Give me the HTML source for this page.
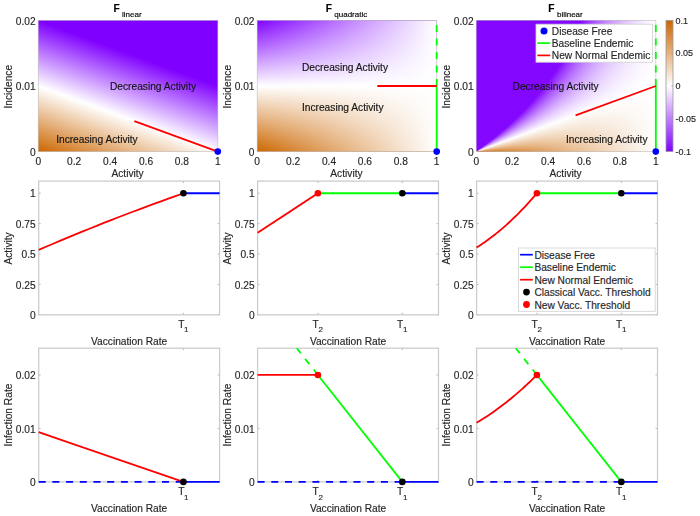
<!DOCTYPE html>
<html><head><meta charset="utf-8"><title>Figure</title>
<style>html,body{margin:0;padding:0;background:#fff;}body{width:700px;height:516px;overflow:hidden;font-family:"Liberation Sans",sans-serif;}svg{display:block;filter:blur(0.35px);}text{stroke:currentColor;stroke-width:0.15px;}</style></head><body>
<svg width="700" height="516" viewBox="0 0 700 516" font-family="Liberation Sans, sans-serif"><defs><linearGradient id="h1" gradientUnits="userSpaceOnUse" x1="38.3" y1="151.6" x2="80.6" y2="35.86"><stop offset="0" stop-color="#cc6600"/><stop offset="0.5" stop-color="#ffffff"/><stop offset="1" stop-color="#8000ff"/></linearGradient><linearGradient id="h2v" gradientUnits="userSpaceOnUse" x1="0" y1="151.6" x2="0" y2="20.4"><stop offset="0" stop-color="#cc6600"/><stop offset="0.5" stop-color="#ffffff"/><stop offset="1" stop-color="#8000ff"/></linearGradient><linearGradient id="h2h" gradientUnits="userSpaceOnUse" x1="257.2" y1="0" x2="436.7" y2="0"><stop offset="0" stop-color="#ffffff" stop-opacity="0"/><stop offset="1" stop-color="#ffffff" stop-opacity="1"/></linearGradient><linearGradient id="c0" gradientUnits="userSpaceOnUse" x1="0" y1="151.6" x2="0" y2="151.234"><stop offset="0" stop-color="#cc6601"/><stop offset="0.4993" stop-color="#ffffff"/><stop offset="1" stop-color="#8000ff"/></linearGradient><linearGradient id="c1" gradientUnits="userSpaceOnUse" x1="0" y1="151.6" x2="0" y2="150.499"><stop offset="0" stop-color="#cc6702"/><stop offset="0.4979" stop-color="#ffffff"/><stop offset="1" stop-color="#8000ff"/></linearGradient><linearGradient id="c2" gradientUnits="userSpaceOnUse" x1="0" y1="151.6" x2="0" y2="149.760"><stop offset="0" stop-color="#cd6804"/><stop offset="0.4965" stop-color="#ffffff"/><stop offset="1" stop-color="#8000ff"/></linearGradient><linearGradient id="c3" gradientUnits="userSpaceOnUse" x1="0" y1="151.6" x2="0" y2="149.016"><stop offset="0" stop-color="#cd6905"/><stop offset="0.4951" stop-color="#ffffff"/><stop offset="1" stop-color="#8000ff"/></linearGradient><linearGradient id="c4" gradientUnits="userSpaceOnUse" x1="0" y1="151.6" x2="0" y2="148.269"><stop offset="0" stop-color="#cd6a06"/><stop offset="0.4937" stop-color="#ffffff"/><stop offset="1" stop-color="#8000ff"/></linearGradient><linearGradient id="c5" gradientUnits="userSpaceOnUse" x1="0" y1="151.6" x2="0" y2="147.516"><stop offset="0" stop-color="#ce6b08"/><stop offset="0.4922" stop-color="#ffffff"/><stop offset="1" stop-color="#8000ff"/></linearGradient><linearGradient id="c6" gradientUnits="userSpaceOnUse" x1="0" y1="151.6" x2="0" y2="146.760"><stop offset="0" stop-color="#ce6c09"/><stop offset="0.4908" stop-color="#ffffff"/><stop offset="1" stop-color="#8000ff"/></linearGradient><linearGradient id="c7" gradientUnits="userSpaceOnUse" x1="0" y1="151.6" x2="0" y2="145.999"><stop offset="0" stop-color="#ce6c0b"/><stop offset="0.4893" stop-color="#ffffff"/><stop offset="1" stop-color="#8000ff"/></linearGradient><linearGradient id="c8" gradientUnits="userSpaceOnUse" x1="0" y1="151.6" x2="0" y2="145.233"><stop offset="0" stop-color="#ce6d0c"/><stop offset="0.4879" stop-color="#ffffff"/><stop offset="1" stop-color="#8000ff"/></linearGradient><linearGradient id="c9" gradientUnits="userSpaceOnUse" x1="0" y1="151.6" x2="0" y2="144.462"><stop offset="0" stop-color="#cf6e0d"/><stop offset="0.4864" stop-color="#ffffff"/><stop offset="1" stop-color="#8000ff"/></linearGradient><linearGradient id="c10" gradientUnits="userSpaceOnUse" x1="0" y1="151.6" x2="0" y2="143.687"><stop offset="0" stop-color="#cf6f0f"/><stop offset="0.4849" stop-color="#ffffff"/><stop offset="1" stop-color="#8000ff"/></linearGradient><linearGradient id="c11" gradientUnits="userSpaceOnUse" x1="0" y1="151.6" x2="0" y2="142.907"><stop offset="0" stop-color="#cf7010"/><stop offset="0.4835" stop-color="#ffffff"/><stop offset="1" stop-color="#8000ff"/></linearGradient><linearGradient id="c12" gradientUnits="userSpaceOnUse" x1="0" y1="151.6" x2="0" y2="142.122"><stop offset="0" stop-color="#d07112"/><stop offset="0.4820" stop-color="#ffffff"/><stop offset="1" stop-color="#8000ff"/></linearGradient><linearGradient id="c13" gradientUnits="userSpaceOnUse" x1="0" y1="151.6" x2="0" y2="141.331"><stop offset="0" stop-color="#d07213"/><stop offset="0.4805" stop-color="#ffffff"/><stop offset="1" stop-color="#8000ff"/></linearGradient><linearGradient id="c14" gradientUnits="userSpaceOnUse" x1="0" y1="151.6" x2="0" y2="140.536"><stop offset="0" stop-color="#d07215"/><stop offset="0.4790" stop-color="#ffffff"/><stop offset="1" stop-color="#8000ff"/></linearGradient><linearGradient id="c15" gradientUnits="userSpaceOnUse" x1="0" y1="151.6" x2="0" y2="139.735"><stop offset="0" stop-color="#d07316"/><stop offset="0.4774" stop-color="#ffffff"/><stop offset="1" stop-color="#8000ff"/></linearGradient><linearGradient id="c16" gradientUnits="userSpaceOnUse" x1="0" y1="151.6" x2="0" y2="138.929"><stop offset="0" stop-color="#d17417"/><stop offset="0.4759" stop-color="#ffffff"/><stop offset="1" stop-color="#8000ff"/></linearGradient><linearGradient id="c17" gradientUnits="userSpaceOnUse" x1="0" y1="151.6" x2="0" y2="138.118"><stop offset="0" stop-color="#d17519"/><stop offset="0.4744" stop-color="#ffffff"/><stop offset="1" stop-color="#8000ff"/></linearGradient><linearGradient id="c18" gradientUnits="userSpaceOnUse" x1="0" y1="151.6" x2="0" y2="137.301"><stop offset="0" stop-color="#d1761a"/><stop offset="0.4728" stop-color="#ffffff"/><stop offset="1" stop-color="#8000ff"/></linearGradient><linearGradient id="c19" gradientUnits="userSpaceOnUse" x1="0" y1="151.6" x2="0" y2="136.479"><stop offset="0" stop-color="#d2771c"/><stop offset="0.4713" stop-color="#ffffff"/><stop offset="1" stop-color="#8000ff"/></linearGradient><linearGradient id="c20" gradientUnits="userSpaceOnUse" x1="0" y1="151.6" x2="0" y2="135.650"><stop offset="0" stop-color="#d2771d"/><stop offset="0.4697" stop-color="#ffffff"/><stop offset="1" stop-color="#8000ff"/></linearGradient><linearGradient id="c21" gradientUnits="userSpaceOnUse" x1="0" y1="151.6" x2="0" y2="134.816"><stop offset="0" stop-color="#d2781f"/><stop offset="0.4681" stop-color="#ffffff"/><stop offset="1" stop-color="#8000ff"/></linearGradient><linearGradient id="c22" gradientUnits="userSpaceOnUse" x1="0" y1="151.6" x2="0" y2="133.976"><stop offset="0" stop-color="#d27920"/><stop offset="0.4666" stop-color="#ffffff"/><stop offset="1" stop-color="#8000ff"/></linearGradient><linearGradient id="c23" gradientUnits="userSpaceOnUse" x1="0" y1="151.6" x2="0" y2="133.130"><stop offset="0" stop-color="#d37a21"/><stop offset="0.4650" stop-color="#ffffff"/><stop offset="1" stop-color="#8000ff"/></linearGradient><linearGradient id="c24" gradientUnits="userSpaceOnUse" x1="0" y1="151.6" x2="0" y2="132.277"><stop offset="0" stop-color="#d37b23"/><stop offset="0.4634" stop-color="#ffffff"/><stop offset="1" stop-color="#8000ff"/></linearGradient><linearGradient id="c25" gradientUnits="userSpaceOnUse" x1="0" y1="151.6" x2="0" y2="131.418"><stop offset="0" stop-color="#d37c24"/><stop offset="0.4618" stop-color="#ffffff"/><stop offset="1" stop-color="#8000ff"/></linearGradient><linearGradient id="c26" gradientUnits="userSpaceOnUse" x1="0" y1="151.6" x2="0" y2="130.553"><stop offset="0" stop-color="#d47d26"/><stop offset="0.4602" stop-color="#ffffff"/><stop offset="1" stop-color="#8000ff"/></linearGradient><linearGradient id="c27" gradientUnits="userSpaceOnUse" x1="0" y1="151.6" x2="0" y2="129.681"><stop offset="0" stop-color="#d47d27"/><stop offset="0.4585" stop-color="#ffffff"/><stop offset="1" stop-color="#8000ff"/></linearGradient><linearGradient id="c28" gradientUnits="userSpaceOnUse" x1="0" y1="151.6" x2="0" y2="128.803"><stop offset="0" stop-color="#d47e28"/><stop offset="0.4569" stop-color="#ffffff"/><stop offset="1" stop-color="#8000ff"/></linearGradient><linearGradient id="c29" gradientUnits="userSpaceOnUse" x1="0" y1="151.6" x2="0" y2="127.918"><stop offset="0" stop-color="#d47f2a"/><stop offset="0.4552" stop-color="#ffffff"/><stop offset="1" stop-color="#8000ff"/></linearGradient><linearGradient id="c30" gradientUnits="userSpaceOnUse" x1="0" y1="151.6" x2="0" y2="127.025"><stop offset="0" stop-color="#d5802b"/><stop offset="0.4536" stop-color="#ffffff"/><stop offset="1" stop-color="#8000ff"/></linearGradient><linearGradient id="c31" gradientUnits="userSpaceOnUse" x1="0" y1="151.6" x2="0" y2="126.126"><stop offset="0" stop-color="#d5812d"/><stop offset="0.4519" stop-color="#ffffff"/><stop offset="1" stop-color="#8000ff"/></linearGradient><linearGradient id="c32" gradientUnits="userSpaceOnUse" x1="0" y1="151.6" x2="0" y2="125.219"><stop offset="0" stop-color="#d5822e"/><stop offset="0.4502" stop-color="#ffffff"/><stop offset="1" stop-color="#8000ff"/></linearGradient><linearGradient id="c33" gradientUnits="userSpaceOnUse" x1="0" y1="151.6" x2="0" y2="124.305"><stop offset="0" stop-color="#d68330"/><stop offset="0.4485" stop-color="#ffffff"/><stop offset="1" stop-color="#8000ff"/></linearGradient><linearGradient id="c34" gradientUnits="userSpaceOnUse" x1="0" y1="151.6" x2="0" y2="123.383"><stop offset="0" stop-color="#d68331"/><stop offset="0.4468" stop-color="#ffffff"/><stop offset="1" stop-color="#8000ff"/></linearGradient><linearGradient id="c35" gradientUnits="userSpaceOnUse" x1="0" y1="151.6" x2="0" y2="122.454"><stop offset="0" stop-color="#d68432"/><stop offset="0.4451" stop-color="#ffffff"/><stop offset="1" stop-color="#8000ff"/></linearGradient><linearGradient id="c36" gradientUnits="userSpaceOnUse" x1="0" y1="151.6" x2="0" y2="121.517"><stop offset="0" stop-color="#d68534"/><stop offset="0.4434" stop-color="#ffffff"/><stop offset="1" stop-color="#8000ff"/></linearGradient><linearGradient id="c37" gradientUnits="userSpaceOnUse" x1="0" y1="151.6" x2="0" y2="120.571"><stop offset="0" stop-color="#d78635"/><stop offset="0.4417" stop-color="#ffffff"/><stop offset="1" stop-color="#8000ff"/></linearGradient><linearGradient id="c38" gradientUnits="userSpaceOnUse" x1="0" y1="151.6" x2="0" y2="119.618"><stop offset="0" stop-color="#d78737"/><stop offset="0.4399" stop-color="#ffffff"/><stop offset="1" stop-color="#8000ff"/></linearGradient><linearGradient id="c39" gradientUnits="userSpaceOnUse" x1="0" y1="151.6" x2="0" y2="118.656"><stop offset="0" stop-color="#d78838"/><stop offset="0.4382" stop-color="#ffffff"/><stop offset="1" stop-color="#8000ff"/></linearGradient><linearGradient id="c40" gradientUnits="userSpaceOnUse" x1="0" y1="151.6" x2="0" y2="117.685"><stop offset="0" stop-color="#d8893a"/><stop offset="0.4364" stop-color="#ffffff"/><stop offset="1" stop-color="#8000ff"/></linearGradient><linearGradient id="c41" gradientUnits="userSpaceOnUse" x1="0" y1="151.6" x2="0" y2="116.706"><stop offset="0" stop-color="#d8893b"/><stop offset="0.4346" stop-color="#ffffff"/><stop offset="1" stop-color="#8000ff"/></linearGradient><linearGradient id="c42" gradientUnits="userSpaceOnUse" x1="0" y1="151.6" x2="0" y2="115.718"><stop offset="0" stop-color="#d88a3c"/><stop offset="0.4329" stop-color="#ffffff"/><stop offset="1" stop-color="#8000ff"/></linearGradient><linearGradient id="c43" gradientUnits="userSpaceOnUse" x1="0" y1="151.6" x2="0" y2="114.720"><stop offset="0" stop-color="#d88b3e"/><stop offset="0.4311" stop-color="#ffffff"/><stop offset="1" stop-color="#8000ff"/></linearGradient><linearGradient id="c44" gradientUnits="userSpaceOnUse" x1="0" y1="151.6" x2="0" y2="113.713"><stop offset="0" stop-color="#d98c3f"/><stop offset="0.4293" stop-color="#ffffff"/><stop offset="1" stop-color="#8000ff"/></linearGradient><linearGradient id="c45" gradientUnits="userSpaceOnUse" x1="0" y1="151.6" x2="0" y2="112.697"><stop offset="0" stop-color="#d98d41"/><stop offset="0.4274" stop-color="#ffffff"/><stop offset="1" stop-color="#8000ff"/></linearGradient><linearGradient id="c46" gradientUnits="userSpaceOnUse" x1="0" y1="151.6" x2="0" y2="111.671"><stop offset="0" stop-color="#d98e42"/><stop offset="0.4256" stop-color="#ffffff"/><stop offset="1" stop-color="#8000ff"/></linearGradient><linearGradient id="c47" gradientUnits="userSpaceOnUse" x1="0" y1="151.6" x2="0" y2="110.635"><stop offset="0" stop-color="#d98e43"/><stop offset="0.4238" stop-color="#ffffff"/><stop offset="1" stop-color="#8000ff"/></linearGradient><linearGradient id="c48" gradientUnits="userSpaceOnUse" x1="0" y1="151.6" x2="0" y2="109.588"><stop offset="0" stop-color="#da8f45"/><stop offset="0.4219" stop-color="#ffffff"/><stop offset="1" stop-color="#8000ff"/></linearGradient><linearGradient id="c49" gradientUnits="userSpaceOnUse" x1="0" y1="151.6" x2="0" y2="108.531"><stop offset="0" stop-color="#da9046"/><stop offset="0.4200" stop-color="#ffffff"/><stop offset="1" stop-color="#8000ff"/></linearGradient><linearGradient id="c50" gradientUnits="userSpaceOnUse" x1="0" y1="151.6" x2="0" y2="107.464"><stop offset="0" stop-color="#da9148"/><stop offset="0.4182" stop-color="#ffffff"/><stop offset="1" stop-color="#8000ff"/></linearGradient><linearGradient id="c51" gradientUnits="userSpaceOnUse" x1="0" y1="151.6" x2="0" y2="106.385"><stop offset="0" stop-color="#db9249"/><stop offset="0.4163" stop-color="#ffffff"/><stop offset="1" stop-color="#8000ff"/></linearGradient><linearGradient id="c52" gradientUnits="userSpaceOnUse" x1="0" y1="151.6" x2="0" y2="105.295"><stop offset="0" stop-color="#db934b"/><stop offset="0.4144" stop-color="#ffffff"/><stop offset="1" stop-color="#8000ff"/></linearGradient><linearGradient id="c53" gradientUnits="userSpaceOnUse" x1="0" y1="151.6" x2="0" y2="104.194"><stop offset="0" stop-color="#db944c"/><stop offset="0.4124" stop-color="#ffffff"/><stop offset="1" stop-color="#8000ff"/></linearGradient><linearGradient id="c54" gradientUnits="userSpaceOnUse" x1="0" y1="151.6" x2="0" y2="103.081"><stop offset="0" stop-color="#db944d"/><stop offset="0.4105" stop-color="#ffffff"/><stop offset="1" stop-color="#8000ff"/></linearGradient><linearGradient id="c55" gradientUnits="userSpaceOnUse" x1="0" y1="151.6" x2="0" y2="101.956"><stop offset="0" stop-color="#dc954f"/><stop offset="0.4086" stop-color="#ffffff"/><stop offset="1" stop-color="#8000ff"/></linearGradient><linearGradient id="c56" gradientUnits="userSpaceOnUse" x1="0" y1="151.6" x2="0" y2="100.818"><stop offset="0" stop-color="#dc9650"/><stop offset="0.4066" stop-color="#ffffff"/><stop offset="1" stop-color="#8000ff"/></linearGradient><linearGradient id="c57" gradientUnits="userSpaceOnUse" x1="0" y1="151.6" x2="0" y2="99.668"><stop offset="0" stop-color="#dc9752"/><stop offset="0.4046" stop-color="#ffffff"/><stop offset="1" stop-color="#8000ff"/></linearGradient><linearGradient id="c58" gradientUnits="userSpaceOnUse" x1="0" y1="151.6" x2="0" y2="98.505"><stop offset="0" stop-color="#dd9853"/><stop offset="0.4027" stop-color="#ffffff"/><stop offset="1" stop-color="#8000ff"/></linearGradient><linearGradient id="c59" gradientUnits="userSpaceOnUse" x1="0" y1="151.6" x2="0" y2="97.328"><stop offset="0" stop-color="#dd9955"/><stop offset="0.4007" stop-color="#ffffff"/><stop offset="1" stop-color="#8000ff"/></linearGradient><linearGradient id="c60" gradientUnits="userSpaceOnUse" x1="0" y1="151.6" x2="0" y2="96.138"><stop offset="0" stop-color="#dd9a56"/><stop offset="0.3987" stop-color="#ffffff"/><stop offset="1" stop-color="#8000ff"/></linearGradient><linearGradient id="c61" gradientUnits="userSpaceOnUse" x1="0" y1="151.6" x2="0" y2="94.934"><stop offset="0" stop-color="#dd9a57"/><stop offset="0.3966" stop-color="#ffffff"/><stop offset="1" stop-color="#8000ff"/></linearGradient><linearGradient id="c62" gradientUnits="userSpaceOnUse" x1="0" y1="151.6" x2="0" y2="93.716"><stop offset="0" stop-color="#de9b59"/><stop offset="0.3946" stop-color="#ffffff"/><stop offset="1" stop-color="#8000ff"/></linearGradient><linearGradient id="c63" gradientUnits="userSpaceOnUse" x1="0" y1="151.6" x2="0" y2="92.483"><stop offset="0" stop-color="#de9c5a"/><stop offset="0.3926" stop-color="#ffffff"/><stop offset="1" stop-color="#8000ff"/></linearGradient><linearGradient id="c64" gradientUnits="userSpaceOnUse" x1="0" y1="151.6" x2="0" y2="91.235"><stop offset="0" stop-color="#de9d5c"/><stop offset="0.3905" stop-color="#ffffff"/><stop offset="1" stop-color="#8000ff"/></linearGradient><linearGradient id="c65" gradientUnits="userSpaceOnUse" x1="0" y1="151.6" x2="0" y2="89.971"><stop offset="0" stop-color="#df9e5d"/><stop offset="0.3884" stop-color="#ffffff"/><stop offset="1" stop-color="#8000ff"/></linearGradient><linearGradient id="c66" gradientUnits="userSpaceOnUse" x1="0" y1="151.6" x2="0" y2="88.692"><stop offset="0" stop-color="#df9f5e"/><stop offset="0.3863" stop-color="#ffffff"/><stop offset="1" stop-color="#8000ff"/></linearGradient><linearGradient id="c67" gradientUnits="userSpaceOnUse" x1="0" y1="151.6" x2="0" y2="87.396"><stop offset="0" stop-color="#dfa060"/><stop offset="0.3842" stop-color="#ffffff"/><stop offset="1" stop-color="#8000ff"/></linearGradient><linearGradient id="c68" gradientUnits="userSpaceOnUse" x1="0" y1="151.6" x2="0" y2="86.083"><stop offset="0" stop-color="#dfa061"/><stop offset="0.3821" stop-color="#ffffff"/><stop offset="1" stop-color="#8000ff"/></linearGradient><linearGradient id="c69" gradientUnits="userSpaceOnUse" x1="0" y1="151.6" x2="0" y2="84.753"><stop offset="0" stop-color="#e0a163"/><stop offset="0.3800" stop-color="#ffffff"/><stop offset="1" stop-color="#8000ff"/></linearGradient><linearGradient id="c70" gradientUnits="userSpaceOnUse" x1="0" y1="151.6" x2="0" y2="83.406"><stop offset="0" stop-color="#e0a264"/><stop offset="0.3778" stop-color="#ffffff"/><stop offset="1" stop-color="#8000ff"/></linearGradient><linearGradient id="c71" gradientUnits="userSpaceOnUse" x1="0" y1="151.6" x2="0" y2="82.040"><stop offset="0" stop-color="#e0a366"/><stop offset="0.3757" stop-color="#ffffff"/><stop offset="1" stop-color="#8000ff"/></linearGradient><linearGradient id="c72" gradientUnits="userSpaceOnUse" x1="0" y1="151.6" x2="0" y2="80.656"><stop offset="0" stop-color="#e1a467"/><stop offset="0.3735" stop-color="#ffffff"/><stop offset="1" stop-color="#8000ff"/></linearGradient><linearGradient id="c73" gradientUnits="userSpaceOnUse" x1="0" y1="151.6" x2="0" y2="79.252"><stop offset="0" stop-color="#e1a568"/><stop offset="0.3713" stop-color="#ffffff"/><stop offset="1" stop-color="#8000ff"/></linearGradient><linearGradient id="c74" gradientUnits="userSpaceOnUse" x1="0" y1="151.6" x2="0" y2="77.828"><stop offset="0" stop-color="#e1a66a"/><stop offset="0.3691" stop-color="#ffffff"/><stop offset="1" stop-color="#8000ff"/></linearGradient><linearGradient id="c75" gradientUnits="userSpaceOnUse" x1="0" y1="151.6" x2="0" y2="76.385"><stop offset="0" stop-color="#e1a66b"/><stop offset="0.3668" stop-color="#ffffff"/><stop offset="1" stop-color="#8000ff"/></linearGradient><linearGradient id="c76" gradientUnits="userSpaceOnUse" x1="0" y1="151.6" x2="0" y2="74.920"><stop offset="0" stop-color="#e2a76d"/><stop offset="0.3646" stop-color="#ffffff"/><stop offset="1" stop-color="#8000ff"/></linearGradient><linearGradient id="c77" gradientUnits="userSpaceOnUse" x1="0" y1="151.6" x2="0" y2="73.434"><stop offset="0" stop-color="#e2a86e"/><stop offset="0.3623" stop-color="#ffffff"/><stop offset="1" stop-color="#8000ff"/></linearGradient><linearGradient id="c78" gradientUnits="userSpaceOnUse" x1="0" y1="151.6" x2="0" y2="71.925"><stop offset="0" stop-color="#e2a970"/><stop offset="0.3601" stop-color="#ffffff"/><stop offset="1" stop-color="#8000ff"/></linearGradient><linearGradient id="c79" gradientUnits="userSpaceOnUse" x1="0" y1="151.6" x2="0" y2="70.394"><stop offset="0" stop-color="#e3aa71"/><stop offset="0.3578" stop-color="#ffffff"/><stop offset="1" stop-color="#8000ff"/></linearGradient><linearGradient id="c80" gradientUnits="userSpaceOnUse" x1="0" y1="151.6" x2="0" y2="68.839"><stop offset="0" stop-color="#e3ab72"/><stop offset="0.3555" stop-color="#ffffff"/><stop offset="1" stop-color="#8000ff"/></linearGradient><linearGradient id="c81" gradientUnits="userSpaceOnUse" x1="0" y1="151.6" x2="0" y2="67.260"><stop offset="0" stop-color="#e3ab74"/><stop offset="0.3532" stop-color="#ffffff"/><stop offset="1" stop-color="#8000ff"/></linearGradient><linearGradient id="c82" gradientUnits="userSpaceOnUse" x1="0" y1="151.6" x2="0" y2="65.656"><stop offset="0" stop-color="#e3ac75"/><stop offset="0.3508" stop-color="#ffffff"/><stop offset="1" stop-color="#8000ff"/></linearGradient><linearGradient id="c83" gradientUnits="userSpaceOnUse" x1="0" y1="151.6" x2="0" y2="64.026"><stop offset="0" stop-color="#e4ad77"/><stop offset="0.3485" stop-color="#ffffff"/><stop offset="1" stop-color="#8000ff"/></linearGradient><linearGradient id="c84" gradientUnits="userSpaceOnUse" x1="0" y1="151.6" x2="0" y2="62.369"><stop offset="0" stop-color="#e4ae78"/><stop offset="0.3461" stop-color="#ffffff"/><stop offset="1" stop-color="#8000ff"/></linearGradient><linearGradient id="c85" gradientUnits="userSpaceOnUse" x1="0" y1="151.6" x2="0" y2="60.685"><stop offset="0" stop-color="#e4af79"/><stop offset="0.3437" stop-color="#ffffff"/><stop offset="1" stop-color="#8000ff"/></linearGradient><linearGradient id="c86" gradientUnits="userSpaceOnUse" x1="0" y1="151.6" x2="0" y2="58.973"><stop offset="0" stop-color="#e5b07b"/><stop offset="0.3413" stop-color="#ffffff"/><stop offset="1" stop-color="#8000ff"/></linearGradient><linearGradient id="c87" gradientUnits="userSpaceOnUse" x1="0" y1="151.6" x2="0" y2="57.231"><stop offset="0" stop-color="#e5b17c"/><stop offset="0.3389" stop-color="#ffffff"/><stop offset="1" stop-color="#8000ff"/></linearGradient><linearGradient id="c88" gradientUnits="userSpaceOnUse" x1="0" y1="151.6" x2="0" y2="55.459"><stop offset="0" stop-color="#e5b17e"/><stop offset="0.3364" stop-color="#ffffff"/><stop offset="1" stop-color="#8000ff"/></linearGradient><linearGradient id="c89" gradientUnits="userSpaceOnUse" x1="0" y1="151.6" x2="0" y2="53.656"><stop offset="0" stop-color="#e5b27f"/><stop offset="0.3340" stop-color="#ffffff"/><stop offset="1" stop-color="#8000ff"/></linearGradient><linearGradient id="c90" gradientUnits="userSpaceOnUse" x1="0" y1="151.6" x2="0" y2="51.820"><stop offset="0" stop-color="#e6b381"/><stop offset="0.3315" stop-color="#ffffff"/><stop offset="1" stop-color="#8000ff"/></linearGradient><linearGradient id="c91" gradientUnits="userSpaceOnUse" x1="0" y1="151.6" x2="0" y2="49.951"><stop offset="0" stop-color="#e6b482"/><stop offset="0.3290" stop-color="#ffffff"/><stop offset="1" stop-color="#8000ff"/></linearGradient><linearGradient id="c92" gradientUnits="userSpaceOnUse" x1="0" y1="151.6" x2="0" y2="48.048"><stop offset="0" stop-color="#e6b583"/><stop offset="0.3265" stop-color="#ffffff"/><stop offset="1" stop-color="#8000ff"/></linearGradient><linearGradient id="c93" gradientUnits="userSpaceOnUse" x1="0" y1="151.6" x2="0" y2="46.109"><stop offset="0" stop-color="#e7b685"/><stop offset="0.3239" stop-color="#ffffff"/><stop offset="1" stop-color="#8000ff"/></linearGradient><linearGradient id="c94" gradientUnits="userSpaceOnUse" x1="0" y1="151.6" x2="0" y2="44.132"><stop offset="0" stop-color="#e7b786"/><stop offset="0.3214" stop-color="#ffffff"/><stop offset="1" stop-color="#8000ff"/></linearGradient><linearGradient id="c95" gradientUnits="userSpaceOnUse" x1="0" y1="151.6" x2="0" y2="42.118"><stop offset="0" stop-color="#e7b788"/><stop offset="0.3188" stop-color="#ffffff"/><stop offset="1" stop-color="#8000ff"/></linearGradient><linearGradient id="c96" gradientUnits="userSpaceOnUse" x1="0" y1="151.6" x2="0" y2="40.063"><stop offset="0" stop-color="#e7b889"/><stop offset="0.3162" stop-color="#ffffff"/><stop offset="1" stop-color="#8000ff"/></linearGradient><linearGradient id="c97" gradientUnits="userSpaceOnUse" x1="0" y1="151.6" x2="0" y2="37.968"><stop offset="0" stop-color="#e8b98b"/><stop offset="0.3136" stop-color="#ffffff"/><stop offset="1" stop-color="#8000ff"/></linearGradient><linearGradient id="c98" gradientUnits="userSpaceOnUse" x1="0" y1="151.6" x2="0" y2="35.829"><stop offset="0" stop-color="#e8ba8c"/><stop offset="0.3109" stop-color="#ffffff"/><stop offset="1" stop-color="#8000ff"/></linearGradient><linearGradient id="c99" gradientUnits="userSpaceOnUse" x1="0" y1="151.6" x2="0" y2="33.647"><stop offset="0" stop-color="#e8bb8d"/><stop offset="0.3083" stop-color="#ffffff"/><stop offset="1" stop-color="#8000ff"/></linearGradient><linearGradient id="c100" gradientUnits="userSpaceOnUse" x1="0" y1="151.6" x2="0" y2="31.418"><stop offset="0" stop-color="#e9bc8f"/><stop offset="0.3056" stop-color="#ffffff"/><stop offset="1" stop-color="#8000ff"/></linearGradient><linearGradient id="c101" gradientUnits="userSpaceOnUse" x1="0" y1="151.6" x2="0" y2="29.142"><stop offset="0" stop-color="#e9bd90"/><stop offset="0.3029" stop-color="#ffffff"/><stop offset="1" stop-color="#8000ff"/></linearGradient><linearGradient id="c102" gradientUnits="userSpaceOnUse" x1="0" y1="151.6" x2="0" y2="26.816"><stop offset="0" stop-color="#e9bd92"/><stop offset="0.3002" stop-color="#ffffff"/><stop offset="1" stop-color="#8000ff"/></linearGradient><linearGradient id="c103" gradientUnits="userSpaceOnUse" x1="0" y1="151.6" x2="0" y2="24.438"><stop offset="0" stop-color="#e9be93"/><stop offset="0.2975" stop-color="#ffffff"/><stop offset="1" stop-color="#8000ff"/></linearGradient><linearGradient id="c104" gradientUnits="userSpaceOnUse" x1="0" y1="151.6" x2="0" y2="22.007"><stop offset="0" stop-color="#eabf94"/><stop offset="0.2947" stop-color="#ffffff"/><stop offset="1" stop-color="#8000ff"/></linearGradient><linearGradient id="c105" gradientUnits="userSpaceOnUse" x1="0" y1="151.6" x2="0" y2="19.520"><stop offset="0" stop-color="#eac096"/><stop offset="0.2919" stop-color="#ffffff"/><stop offset="1" stop-color="#8000ff"/></linearGradient><linearGradient id="c106" gradientUnits="userSpaceOnUse" x1="0" y1="151.6" x2="0" y2="16.974"><stop offset="0" stop-color="#eac197"/><stop offset="0.2891" stop-color="#ffffff"/><stop offset="1" stop-color="#8000ff"/></linearGradient><linearGradient id="c107" gradientUnits="userSpaceOnUse" x1="0" y1="151.6" x2="0" y2="14.369"><stop offset="0" stop-color="#ebc299"/><stop offset="0.2863" stop-color="#ffffff"/><stop offset="1" stop-color="#8000ff"/></linearGradient><linearGradient id="c108" gradientUnits="userSpaceOnUse" x1="0" y1="151.6" x2="0" y2="11.700"><stop offset="0" stop-color="#ebc29a"/><stop offset="0.2834" stop-color="#ffffff"/><stop offset="1" stop-color="#8000ff"/></linearGradient><linearGradient id="c109" gradientUnits="userSpaceOnUse" x1="0" y1="151.6" x2="0" y2="8.965"><stop offset="0" stop-color="#ebc39c"/><stop offset="0.2806" stop-color="#ffffff"/><stop offset="1" stop-color="#8000ff"/></linearGradient><linearGradient id="c110" gradientUnits="userSpaceOnUse" x1="0" y1="151.6" x2="0" y2="6.162"><stop offset="0" stop-color="#ebc49d"/><stop offset="0.2777" stop-color="#ffffff"/><stop offset="1" stop-color="#8000ff"/></linearGradient><linearGradient id="c111" gradientUnits="userSpaceOnUse" x1="0" y1="151.6" x2="0" y2="3.287"><stop offset="0" stop-color="#ecc59e"/><stop offset="0.2747" stop-color="#ffffff"/><stop offset="1" stop-color="#8000ff"/></linearGradient><linearGradient id="c112" gradientUnits="userSpaceOnUse" x1="0" y1="151.6" x2="0" y2="0.337"><stop offset="0" stop-color="#ecc6a0"/><stop offset="0.2718" stop-color="#ffffff"/><stop offset="1" stop-color="#8000ff"/></linearGradient><linearGradient id="c113" gradientUnits="userSpaceOnUse" x1="0" y1="151.6" x2="0" y2="-2.692"><stop offset="0" stop-color="#ecc7a1"/><stop offset="0.2688" stop-color="#ffffff"/><stop offset="1" stop-color="#8000ff"/></linearGradient><linearGradient id="c114" gradientUnits="userSpaceOnUse" x1="0" y1="151.6" x2="0" y2="-5.802"><stop offset="0" stop-color="#edc8a3"/><stop offset="0.2658" stop-color="#ffffff"/><stop offset="1" stop-color="#8000ff"/></linearGradient><linearGradient id="c115" gradientUnits="userSpaceOnUse" x1="0" y1="151.6" x2="0" y2="-8.998"><stop offset="0" stop-color="#edc8a4"/><stop offset="0.2628" stop-color="#ffffff"/><stop offset="1" stop-color="#8000ff"/></linearGradient><linearGradient id="c116" gradientUnits="userSpaceOnUse" x1="0" y1="151.6" x2="0" y2="-12.284"><stop offset="0" stop-color="#edc9a6"/><stop offset="0.2598" stop-color="#ffffff"/><stop offset="1" stop-color="#8000ff"/></linearGradient><linearGradient id="c117" gradientUnits="userSpaceOnUse" x1="0" y1="151.6" x2="0" y2="-15.664"><stop offset="0" stop-color="#edcaa7"/><stop offset="0.2567" stop-color="#ffffff"/><stop offset="1" stop-color="#8000ff"/></linearGradient><linearGradient id="c118" gradientUnits="userSpaceOnUse" x1="0" y1="151.6" x2="0" y2="-19.143"><stop offset="0" stop-color="#eecba8"/><stop offset="0.2536" stop-color="#ffffff"/><stop offset="1" stop-color="#8000ff"/></linearGradient><linearGradient id="c119" gradientUnits="userSpaceOnUse" x1="0" y1="151.6" x2="0" y2="-22.726"><stop offset="0" stop-color="#eeccaa"/><stop offset="0.2505" stop-color="#ffffff"/><stop offset="1" stop-color="#8000ff"/></linearGradient><linearGradient id="c120" gradientUnits="userSpaceOnUse" x1="0" y1="151.6" x2="0" y2="-26.418"><stop offset="0" stop-color="#eecdab"/><stop offset="0.2474" stop-color="#ffffff"/><stop offset="1" stop-color="#8000ff"/></linearGradient><linearGradient id="c121" gradientUnits="userSpaceOnUse" x1="0" y1="151.6" x2="0" y2="-30.224"><stop offset="0" stop-color="#efcead"/><stop offset="0.2442" stop-color="#ffffff"/><stop offset="1" stop-color="#8000ff"/></linearGradient><linearGradient id="c122" gradientUnits="userSpaceOnUse" x1="0" y1="151.6" x2="0" y2="-34.151"><stop offset="0" stop-color="#efceae"/><stop offset="0.2410" stop-color="#ffffff"/><stop offset="1" stop-color="#8000ff"/></linearGradient><linearGradient id="c123" gradientUnits="userSpaceOnUse" x1="0" y1="151.6" x2="0" y2="-38.206"><stop offset="0" stop-color="#efcfaf"/><stop offset="0.2378" stop-color="#ffffff"/><stop offset="1" stop-color="#8000ff"/></linearGradient><linearGradient id="c124" gradientUnits="userSpaceOnUse" x1="0" y1="151.6" x2="0" y2="-42.394"><stop offset="0" stop-color="#efd0b1"/><stop offset="0.2345" stop-color="#ffffff"/><stop offset="1" stop-color="#8000ff"/></linearGradient><linearGradient id="c125" gradientUnits="userSpaceOnUse" x1="0" y1="151.6" x2="0" y2="-46.724"><stop offset="0" stop-color="#f0d1b2"/><stop offset="0.2313" stop-color="#ffffff"/><stop offset="1" stop-color="#8000ff"/></linearGradient><linearGradient id="c126" gradientUnits="userSpaceOnUse" x1="0" y1="151.6" x2="0" y2="-51.204"><stop offset="0" stop-color="#f0d2b4"/><stop offset="0.2280" stop-color="#ffffff"/><stop offset="1" stop-color="#8000ff"/></linearGradient><linearGradient id="c127" gradientUnits="userSpaceOnUse" x1="0" y1="151.6" x2="0" y2="-55.842"><stop offset="0" stop-color="#f0d3b5"/><stop offset="0.2246" stop-color="#ffffff"/><stop offset="1" stop-color="#8000ff"/></linearGradient><linearGradient id="c128" gradientUnits="userSpaceOnUse" x1="0" y1="151.6" x2="0" y2="-60.648"><stop offset="0" stop-color="#f1d4b7"/><stop offset="0.2213" stop-color="#ffffff"/><stop offset="1" stop-color="#8000ff"/></linearGradient><linearGradient id="c129" gradientUnits="userSpaceOnUse" x1="0" y1="151.6" x2="0" y2="-65.631"><stop offset="0" stop-color="#f1d4b8"/><stop offset="0.2179" stop-color="#ffffff"/><stop offset="1" stop-color="#8000ff"/></linearGradient><linearGradient id="c130" gradientUnits="userSpaceOnUse" x1="0" y1="151.6" x2="0" y2="-70.803"><stop offset="0" stop-color="#f1d5b9"/><stop offset="0.2144" stop-color="#ffffff"/><stop offset="1" stop-color="#8000ff"/></linearGradient><linearGradient id="c131" gradientUnits="userSpaceOnUse" x1="0" y1="151.6" x2="0" y2="-76.175"><stop offset="0" stop-color="#f1d6bb"/><stop offset="0.2110" stop-color="#ffffff"/><stop offset="1" stop-color="#8000ff"/></linearGradient><linearGradient id="c132" gradientUnits="userSpaceOnUse" x1="0" y1="151.6" x2="0" y2="-81.760"><stop offset="0" stop-color="#f2d7bc"/><stop offset="0.2075" stop-color="#ffffff"/><stop offset="1" stop-color="#8000ff"/></linearGradient><linearGradient id="c133" gradientUnits="userSpaceOnUse" x1="0" y1="151.6" x2="0" y2="-87.571"><stop offset="0" stop-color="#f2d8be"/><stop offset="0.2040" stop-color="#ffffff"/><stop offset="1" stop-color="#8000ff"/></linearGradient><linearGradient id="c134" gradientUnits="userSpaceOnUse" x1="0" y1="151.6" x2="0" y2="-93.625"><stop offset="0" stop-color="#f2d9bf"/><stop offset="0.2004" stop-color="#ffffff"/><stop offset="1" stop-color="#8000ff"/></linearGradient><linearGradient id="c135" gradientUnits="userSpaceOnUse" x1="0" y1="151.6" x2="0" y2="-99.938"><stop offset="0" stop-color="#f2d9c0"/><stop offset="0.1969" stop-color="#ffffff"/><stop offset="1" stop-color="#8000ff"/></linearGradient><linearGradient id="c136" gradientUnits="userSpaceOnUse" x1="0" y1="151.6" x2="0" y2="-106.527"><stop offset="0" stop-color="#f3dac2"/><stop offset="0.1933" stop-color="#ffffff"/><stop offset="1" stop-color="#8000ff"/></linearGradient><linearGradient id="c137" gradientUnits="userSpaceOnUse" x1="0" y1="151.6" x2="0" y2="-113.413"><stop offset="0" stop-color="#f3dbc3"/><stop offset="0.1896" stop-color="#ffffff"/><stop offset="1" stop-color="#8000ff"/></linearGradient><linearGradient id="c138" gradientUnits="userSpaceOnUse" x1="0" y1="151.6" x2="0" y2="-120.616"><stop offset="0" stop-color="#f3dcc5"/><stop offset="0.1859" stop-color="#ffffff"/><stop offset="1" stop-color="#8000ff"/></linearGradient><linearGradient id="c139" gradientUnits="userSpaceOnUse" x1="0" y1="151.6" x2="0" y2="-128.162"><stop offset="0" stop-color="#f4ddc6"/><stop offset="0.1822" stop-color="#ffffff"/><stop offset="1" stop-color="#8000ff"/></linearGradient><linearGradient id="c140" gradientUnits="userSpaceOnUse" x1="0" y1="151.6" x2="0" y2="-136.075"><stop offset="0" stop-color="#f4dec8"/><stop offset="0.1785" stop-color="#ffffff"/><stop offset="1" stop-color="#8000ff"/></linearGradient><linearGradient id="c141" gradientUnits="userSpaceOnUse" x1="0" y1="151.6" x2="0" y2="-144.386"><stop offset="0" stop-color="#f4dfc9"/><stop offset="0.1747" stop-color="#ffffff"/><stop offset="1" stop-color="#8000ff"/></linearGradient><linearGradient id="c142" gradientUnits="userSpaceOnUse" x1="0" y1="151.6" x2="0" y2="-153.127"><stop offset="0" stop-color="#f4dfca"/><stop offset="0.1709" stop-color="#ffffff"/><stop offset="1" stop-color="#8000ff"/></linearGradient><linearGradient id="c143" gradientUnits="userSpaceOnUse" x1="0" y1="151.6" x2="0" y2="-162.332"><stop offset="0" stop-color="#f5e0cc"/><stop offset="0.1671" stop-color="#ffffff"/><stop offset="1" stop-color="#8000ff"/></linearGradient><linearGradient id="c144" gradientUnits="userSpaceOnUse" x1="0" y1="151.6" x2="0" y2="-172.043"><stop offset="0" stop-color="#f5e1cd"/><stop offset="0.1632" stop-color="#ffffff"/><stop offset="1" stop-color="#8000ff"/></linearGradient><linearGradient id="c145" gradientUnits="userSpaceOnUse" x1="0" y1="151.6" x2="0" y2="-182.304"><stop offset="0" stop-color="#f5e2cf"/><stop offset="0.1593" stop-color="#ffffff"/><stop offset="1" stop-color="#8000ff"/></linearGradient><linearGradient id="c146" gradientUnits="userSpaceOnUse" x1="0" y1="151.6" x2="0" y2="-193.164"><stop offset="0" stop-color="#f6e3d0"/><stop offset="0.1553" stop-color="#ffffff"/><stop offset="1" stop-color="#8000ff"/></linearGradient><linearGradient id="c147" gradientUnits="userSpaceOnUse" x1="0" y1="151.6" x2="0" y2="-204.680"><stop offset="0" stop-color="#f6e4d2"/><stop offset="0.1513" stop-color="#ffffff"/><stop offset="1" stop-color="#8000ff"/></linearGradient><linearGradient id="c148" gradientUnits="userSpaceOnUse" x1="0" y1="151.6" x2="0" y2="-216.916"><stop offset="0" stop-color="#f6e5d3"/><stop offset="0.1473" stop-color="#ffffff"/><stop offset="1" stop-color="#8000ff"/></linearGradient><linearGradient id="c149" gradientUnits="userSpaceOnUse" x1="0" y1="151.6" x2="0" y2="-229.943"><stop offset="0" stop-color="#f6e5d4"/><stop offset="0.1432" stop-color="#ffffff"/><stop offset="1" stop-color="#8000ff"/></linearGradient><linearGradient id="c150" gradientUnits="userSpaceOnUse" x1="0" y1="151.6" x2="0" y2="-243.843"><stop offset="0" stop-color="#f7e6d6"/><stop offset="0.1391" stop-color="#ffffff"/><stop offset="1" stop-color="#8000ff"/></linearGradient><linearGradient id="c151" gradientUnits="userSpaceOnUse" x1="0" y1="151.6" x2="0" y2="-258.710"><stop offset="0" stop-color="#f7e7d7"/><stop offset="0.1349" stop-color="#ffffff"/><stop offset="1" stop-color="#8000ff"/></linearGradient><linearGradient id="c152" gradientUnits="userSpaceOnUse" x1="0" y1="151.6" x2="0" y2="-274.651"><stop offset="0" stop-color="#f7e8d9"/><stop offset="0.1308" stop-color="#ffffff"/><stop offset="1" stop-color="#8000ff"/></linearGradient><linearGradient id="c153" gradientUnits="userSpaceOnUse" x1="0" y1="151.6" x2="0" y2="-291.790"><stop offset="0" stop-color="#f8e9da"/><stop offset="0.1265" stop-color="#ffffff"/><stop offset="1" stop-color="#8000ff"/></linearGradient><linearGradient id="c154" gradientUnits="userSpaceOnUse" x1="0" y1="151.6" x2="0" y2="-310.272"><stop offset="0" stop-color="#f8eadb"/><stop offset="0.1222" stop-color="#ffffff"/><stop offset="1" stop-color="#8000ff"/></linearGradient><linearGradient id="c155" gradientUnits="userSpaceOnUse" x1="0" y1="151.6" x2="0" y2="-330.262"><stop offset="0" stop-color="#f8ebdd"/><stop offset="0.1179" stop-color="#ffffff"/><stop offset="1" stop-color="#8000ff"/></linearGradient><linearGradient id="c156" gradientUnits="userSpaceOnUse" x1="0" y1="151.6" x2="0" y2="-351.960"><stop offset="0" stop-color="#f8ebde"/><stop offset="0.1136" stop-color="#ffffff"/><stop offset="1" stop-color="#8000ff"/></linearGradient><linearGradient id="c157" gradientUnits="userSpaceOnUse" x1="0" y1="151.6" x2="0" y2="-375.596"><stop offset="0" stop-color="#f9ece0"/><stop offset="0.1092" stop-color="#ffffff"/><stop offset="1" stop-color="#8000ff"/></linearGradient><linearGradient id="c158" gradientUnits="userSpaceOnUse" x1="0" y1="151.6" x2="0" y2="-401.449"><stop offset="0" stop-color="#f9ede1"/><stop offset="0.1047" stop-color="#ffffff"/><stop offset="1" stop-color="#8000ff"/></linearGradient><linearGradient id="c159" gradientUnits="userSpaceOnUse" x1="0" y1="151.6" x2="0" y2="-429.851"><stop offset="0" stop-color="#f9eee3"/><stop offset="0.1003" stop-color="#ffffff"/><stop offset="1" stop-color="#8000ff"/></linearGradient><linearGradient id="c160" gradientUnits="userSpaceOnUse" x1="0" y1="151.6" x2="0" y2="-461.204"><stop offset="0" stop-color="#faefe4"/><stop offset="0.0957" stop-color="#ffffff"/><stop offset="1" stop-color="#8000ff"/></linearGradient><linearGradient id="c161" gradientUnits="userSpaceOnUse" x1="0" y1="151.6" x2="0" y2="-496.000"><stop offset="0" stop-color="#faf0e5"/><stop offset="0.0911" stop-color="#ffffff"/><stop offset="1" stop-color="#8000ff"/></linearGradient><linearGradient id="c162" gradientUnits="userSpaceOnUse" x1="0" y1="151.6" x2="0" y2="-534.846"><stop offset="0" stop-color="#faf1e7"/><stop offset="0.0865" stop-color="#ffffff"/><stop offset="1" stop-color="#8000ff"/></linearGradient><linearGradient id="c163" gradientUnits="userSpaceOnUse" x1="0" y1="151.6" x2="0" y2="-578.503"><stop offset="0" stop-color="#faf1e8"/><stop offset="0.0818" stop-color="#ffffff"/><stop offset="1" stop-color="#8000ff"/></linearGradient><linearGradient id="c164" gradientUnits="userSpaceOnUse" x1="0" y1="151.6" x2="0" y2="-627.931"><stop offset="0" stop-color="#fbf2ea"/><stop offset="0.0771" stop-color="#ffffff"/><stop offset="1" stop-color="#8000ff"/></linearGradient><linearGradient id="c165" gradientUnits="userSpaceOnUse" x1="0" y1="151.6" x2="0" y2="-684.369"><stop offset="0" stop-color="#fbf3eb"/><stop offset="0.0724" stop-color="#ffffff"/><stop offset="1" stop-color="#8000ff"/></linearGradient><linearGradient id="c166" gradientUnits="userSpaceOnUse" x1="0" y1="151.6" x2="0" y2="-749.434"><stop offset="0" stop-color="#fbf4ed"/><stop offset="0.0675" stop-color="#ffffff"/><stop offset="1" stop-color="#8000ff"/></linearGradient><linearGradient id="c167" gradientUnits="userSpaceOnUse" x1="0" y1="151.6" x2="0" y2="-825.281"><stop offset="0" stop-color="#fcf5ee"/><stop offset="0.0627" stop-color="#ffffff"/><stop offset="1" stop-color="#8000ff"/></linearGradient><linearGradient id="c168" gradientUnits="userSpaceOnUse" x1="0" y1="151.6" x2="0" y2="-914.853"><stop offset="0" stop-color="#fcf6ef"/><stop offset="0.0577" stop-color="#ffffff"/><stop offset="1" stop-color="#8000ff"/></linearGradient><linearGradient id="c169" gradientUnits="userSpaceOnUse" x1="0" y1="151.6" x2="0" y2="-1022.265"><stop offset="0" stop-color="#fcf6f1"/><stop offset="0.0528" stop-color="#ffffff"/><stop offset="1" stop-color="#8000ff"/></linearGradient><linearGradient id="c170" gradientUnits="userSpaceOnUse" x1="0" y1="151.6" x2="0" y2="-1153.466"><stop offset="0" stop-color="#fcf7f2"/><stop offset="0.0477" stop-color="#ffffff"/><stop offset="1" stop-color="#8000ff"/></linearGradient><linearGradient id="c171" gradientUnits="userSpaceOnUse" x1="0" y1="151.6" x2="0" y2="-1317.376"><stop offset="0" stop-color="#fdf8f4"/><stop offset="0.0427" stop-color="#ffffff"/><stop offset="1" stop-color="#8000ff"/></linearGradient><linearGradient id="c172" gradientUnits="userSpaceOnUse" x1="0" y1="151.6" x2="0" y2="-1528.013"><stop offset="0" stop-color="#fdf9f5"/><stop offset="0.0375" stop-color="#ffffff"/><stop offset="1" stop-color="#8000ff"/></linearGradient><linearGradient id="c173" gradientUnits="userSpaceOnUse" x1="0" y1="151.6" x2="0" y2="-1808.741"><stop offset="0" stop-color="#fdfaf6"/><stop offset="0.0323" stop-color="#ffffff"/><stop offset="1" stop-color="#8000ff"/></linearGradient><linearGradient id="c174" gradientUnits="userSpaceOnUse" x1="0" y1="151.6" x2="0" y2="-2201.613"><stop offset="0" stop-color="#fefbf8"/><stop offset="0.0271" stop-color="#ffffff"/><stop offset="1" stop-color="#8000ff"/></linearGradient><linearGradient id="c175" gradientUnits="userSpaceOnUse" x1="0" y1="151.6" x2="0" y2="-2790.738"><stop offset="0" stop-color="#fefcf9"/><stop offset="0.0218" stop-color="#ffffff"/><stop offset="1" stop-color="#8000ff"/></linearGradient><linearGradient id="c176" gradientUnits="userSpaceOnUse" x1="0" y1="151.6" x2="0" y2="-3772.370"><stop offset="0" stop-color="#fefcfb"/><stop offset="0.0164" stop-color="#ffffff"/><stop offset="1" stop-color="#8000ff"/></linearGradient><linearGradient id="c177" gradientUnits="userSpaceOnUse" x1="0" y1="151.6" x2="0" y2="-5735.269"><stop offset="0" stop-color="#fefdfc"/><stop offset="0.0110" stop-color="#ffffff"/><stop offset="1" stop-color="#8000ff"/></linearGradient><linearGradient id="c178" gradientUnits="userSpaceOnUse" x1="0" y1="151.6" x2="0" y2="-11623.235"><stop offset="0" stop-color="#fffefe"/><stop offset="0.0055" stop-color="#ffffff"/><stop offset="1" stop-color="#8000ff"/></linearGradient><linearGradient id="c179" gradientUnits="userSpaceOnUse" x1="0" y1="151.6" x2="0" y2="-46949.109"><stop offset="0" stop-color="#ffffff"/><stop offset="0.0014" stop-color="#ffffff"/><stop offset="1" stop-color="#8000ff"/></linearGradient><linearGradient id="cb" gradientUnits="userSpaceOnUse" x1="0" y1="151.6" x2="0" y2="20.4"><stop offset="0" stop-color="#8000ff"/><stop offset="0.5" stop-color="#ffffff"/><stop offset="1" stop-color="#cc6600"/></linearGradient></defs><rect x="38.3" y="20.4" width="179.5" height="131.2" fill="url(#h1)"/>
<rect x="257.2" y="20.4" width="179.5" height="131.2" fill="url(#h2v)"/>
<rect x="257.2" y="20.4" width="179.5" height="131.2" fill="url(#h2h)"/>
<g>
<rect x="476.3" y="20.4" width="1.6" height="131.2" fill="url(#c0)"/>
<rect x="477.3" y="20.4" width="1.6" height="131.2" fill="url(#c1)"/>
<rect x="478.3" y="20.4" width="1.6" height="131.2" fill="url(#c2)"/>
<rect x="479.3" y="20.4" width="1.6" height="131.2" fill="url(#c3)"/>
<rect x="480.3" y="20.4" width="1.6" height="131.2" fill="url(#c4)"/>
<rect x="481.3" y="20.4" width="1.6" height="131.2" fill="url(#c5)"/>
<rect x="482.3" y="20.4" width="1.6" height="131.2" fill="url(#c6)"/>
<rect x="483.3" y="20.4" width="1.6" height="131.2" fill="url(#c7)"/>
<rect x="484.3" y="20.4" width="1.6" height="131.2" fill="url(#c8)"/>
<rect x="485.3" y="20.4" width="1.6" height="131.2" fill="url(#c9)"/>
<rect x="486.3" y="20.4" width="1.6" height="131.2" fill="url(#c10)"/>
<rect x="487.3" y="20.4" width="1.6" height="131.2" fill="url(#c11)"/>
<rect x="488.3" y="20.4" width="1.6" height="131.2" fill="url(#c12)"/>
<rect x="489.3" y="20.4" width="1.6" height="131.2" fill="url(#c13)"/>
<rect x="490.3" y="20.4" width="1.6" height="131.2" fill="url(#c14)"/>
<rect x="491.3" y="20.4" width="1.6" height="131.2" fill="url(#c15)"/>
<rect x="492.3" y="20.4" width="1.6" height="131.2" fill="url(#c16)"/>
<rect x="493.3" y="20.4" width="1.6" height="131.2" fill="url(#c17)"/>
<rect x="494.3" y="20.4" width="1.6" height="131.2" fill="url(#c18)"/>
<rect x="495.3" y="20.4" width="1.6" height="131.2" fill="url(#c19)"/>
<rect x="496.3" y="20.4" width="1.6" height="131.2" fill="url(#c20)"/>
<rect x="497.3" y="20.4" width="1.6" height="131.2" fill="url(#c21)"/>
<rect x="498.3" y="20.4" width="1.6" height="131.2" fill="url(#c22)"/>
<rect x="499.3" y="20.4" width="1.6" height="131.2" fill="url(#c23)"/>
<rect x="500.3" y="20.4" width="1.6" height="131.2" fill="url(#c24)"/>
<rect x="501.3" y="20.4" width="1.6" height="131.2" fill="url(#c25)"/>
<rect x="502.3" y="20.4" width="1.6" height="131.2" fill="url(#c26)"/>
<rect x="503.3" y="20.4" width="1.6" height="131.2" fill="url(#c27)"/>
<rect x="504.3" y="20.4" width="1.6" height="131.2" fill="url(#c28)"/>
<rect x="505.3" y="20.4" width="1.6" height="131.2" fill="url(#c29)"/>
<rect x="506.3" y="20.4" width="1.6" height="131.2" fill="url(#c30)"/>
<rect x="507.3" y="20.4" width="1.6" height="131.2" fill="url(#c31)"/>
<rect x="508.3" y="20.4" width="1.6" height="131.2" fill="url(#c32)"/>
<rect x="509.3" y="20.4" width="1.6" height="131.2" fill="url(#c33)"/>
<rect x="510.3" y="20.4" width="1.6" height="131.2" fill="url(#c34)"/>
<rect x="511.3" y="20.4" width="1.6" height="131.2" fill="url(#c35)"/>
<rect x="512.3" y="20.4" width="1.6" height="131.2" fill="url(#c36)"/>
<rect x="513.3" y="20.4" width="1.6" height="131.2" fill="url(#c37)"/>
<rect x="514.3" y="20.4" width="1.6" height="131.2" fill="url(#c38)"/>
<rect x="515.3" y="20.4" width="1.6" height="131.2" fill="url(#c39)"/>
<rect x="516.3" y="20.4" width="1.6" height="131.2" fill="url(#c40)"/>
<rect x="517.3" y="20.4" width="1.6" height="131.2" fill="url(#c41)"/>
<rect x="518.3" y="20.4" width="1.6" height="131.2" fill="url(#c42)"/>
<rect x="519.3" y="20.4" width="1.6" height="131.2" fill="url(#c43)"/>
<rect x="520.3" y="20.4" width="1.6" height="131.2" fill="url(#c44)"/>
<rect x="521.3" y="20.4" width="1.6" height="131.2" fill="url(#c45)"/>
<rect x="522.3" y="20.4" width="1.6" height="131.2" fill="url(#c46)"/>
<rect x="523.3" y="20.4" width="1.6" height="131.2" fill="url(#c47)"/>
<rect x="524.3" y="20.4" width="1.6" height="131.2" fill="url(#c48)"/>
<rect x="525.3" y="20.4" width="1.6" height="131.2" fill="url(#c49)"/>
<rect x="526.3" y="20.4" width="1.6" height="131.2" fill="url(#c50)"/>
<rect x="527.3" y="20.4" width="1.6" height="131.2" fill="url(#c51)"/>
<rect x="528.3" y="20.4" width="1.6" height="131.2" fill="url(#c52)"/>
<rect x="529.3" y="20.4" width="1.6" height="131.2" fill="url(#c53)"/>
<rect x="530.3" y="20.4" width="1.6" height="131.2" fill="url(#c54)"/>
<rect x="531.3" y="20.4" width="1.6" height="131.2" fill="url(#c55)"/>
<rect x="532.3" y="20.4" width="1.6" height="131.2" fill="url(#c56)"/>
<rect x="533.3" y="20.4" width="1.6" height="131.2" fill="url(#c57)"/>
<rect x="534.3" y="20.4" width="1.6" height="131.2" fill="url(#c58)"/>
<rect x="535.3" y="20.4" width="1.6" height="131.2" fill="url(#c59)"/>
<rect x="536.3" y="20.4" width="1.6" height="131.2" fill="url(#c60)"/>
<rect x="537.3" y="20.4" width="1.6" height="131.2" fill="url(#c61)"/>
<rect x="538.3" y="20.4" width="1.6" height="131.2" fill="url(#c62)"/>
<rect x="539.3" y="20.4" width="1.6" height="131.2" fill="url(#c63)"/>
<rect x="540.3" y="20.4" width="1.6" height="131.2" fill="url(#c64)"/>
<rect x="541.3" y="20.4" width="1.6" height="131.2" fill="url(#c65)"/>
<rect x="542.3" y="20.4" width="1.6" height="131.2" fill="url(#c66)"/>
<rect x="543.3" y="20.4" width="1.6" height="131.2" fill="url(#c67)"/>
<rect x="544.3" y="20.4" width="1.6" height="131.2" fill="url(#c68)"/>
<rect x="545.3" y="20.4" width="1.6" height="131.2" fill="url(#c69)"/>
<rect x="546.3" y="20.4" width="1.6" height="131.2" fill="url(#c70)"/>
<rect x="547.3" y="20.4" width="1.6" height="131.2" fill="url(#c71)"/>
<rect x="548.3" y="20.4" width="1.6" height="131.2" fill="url(#c72)"/>
<rect x="549.3" y="20.4" width="1.6" height="131.2" fill="url(#c73)"/>
<rect x="550.3" y="20.4" width="1.6" height="131.2" fill="url(#c74)"/>
<rect x="551.3" y="20.4" width="1.6" height="131.2" fill="url(#c75)"/>
<rect x="552.3" y="20.4" width="1.6" height="131.2" fill="url(#c76)"/>
<rect x="553.3" y="20.4" width="1.6" height="131.2" fill="url(#c77)"/>
<rect x="554.3" y="20.4" width="1.6" height="131.2" fill="url(#c78)"/>
<rect x="555.3" y="20.4" width="1.6" height="131.2" fill="url(#c79)"/>
<rect x="556.3" y="20.4" width="1.6" height="131.2" fill="url(#c80)"/>
<rect x="557.3" y="20.4" width="1.6" height="131.2" fill="url(#c81)"/>
<rect x="558.3" y="20.4" width="1.6" height="131.2" fill="url(#c82)"/>
<rect x="559.3" y="20.4" width="1.6" height="131.2" fill="url(#c83)"/>
<rect x="560.3" y="20.4" width="1.6" height="131.2" fill="url(#c84)"/>
<rect x="561.3" y="20.4" width="1.6" height="131.2" fill="url(#c85)"/>
<rect x="562.3" y="20.4" width="1.6" height="131.2" fill="url(#c86)"/>
<rect x="563.3" y="20.4" width="1.6" height="131.2" fill="url(#c87)"/>
<rect x="564.3" y="20.4" width="1.6" height="131.2" fill="url(#c88)"/>
<rect x="565.3" y="20.4" width="1.6" height="131.2" fill="url(#c89)"/>
<rect x="566.3" y="20.4" width="1.6" height="131.2" fill="url(#c90)"/>
<rect x="567.3" y="20.4" width="1.6" height="131.2" fill="url(#c91)"/>
<rect x="568.3" y="20.4" width="1.6" height="131.2" fill="url(#c92)"/>
<rect x="569.3" y="20.4" width="1.6" height="131.2" fill="url(#c93)"/>
<rect x="570.3" y="20.4" width="1.6" height="131.2" fill="url(#c94)"/>
<rect x="571.3" y="20.4" width="1.6" height="131.2" fill="url(#c95)"/>
<rect x="572.3" y="20.4" width="1.6" height="131.2" fill="url(#c96)"/>
<rect x="573.3" y="20.4" width="1.6" height="131.2" fill="url(#c97)"/>
<rect x="574.3" y="20.4" width="1.6" height="131.2" fill="url(#c98)"/>
<rect x="575.3" y="20.4" width="1.6" height="131.2" fill="url(#c99)"/>
<rect x="576.3" y="20.4" width="1.6" height="131.2" fill="url(#c100)"/>
<rect x="577.3" y="20.4" width="1.6" height="131.2" fill="url(#c101)"/>
<rect x="578.3" y="20.4" width="1.6" height="131.2" fill="url(#c102)"/>
<rect x="579.3" y="20.4" width="1.6" height="131.2" fill="url(#c103)"/>
<rect x="580.3" y="20.4" width="1.6" height="131.2" fill="url(#c104)"/>
<rect x="581.3" y="20.4" width="1.6" height="131.2" fill="url(#c105)"/>
<rect x="582.3" y="20.4" width="1.6" height="131.2" fill="url(#c106)"/>
<rect x="583.3" y="20.4" width="1.6" height="131.2" fill="url(#c107)"/>
<rect x="584.3" y="20.4" width="1.6" height="131.2" fill="url(#c108)"/>
<rect x="585.3" y="20.4" width="1.6" height="131.2" fill="url(#c109)"/>
<rect x="586.3" y="20.4" width="1.6" height="131.2" fill="url(#c110)"/>
<rect x="587.3" y="20.4" width="1.6" height="131.2" fill="url(#c111)"/>
<rect x="588.3" y="20.4" width="1.6" height="131.2" fill="url(#c112)"/>
<rect x="589.3" y="20.4" width="1.6" height="131.2" fill="url(#c113)"/>
<rect x="590.3" y="20.4" width="1.6" height="131.2" fill="url(#c114)"/>
<rect x="591.3" y="20.4" width="1.6" height="131.2" fill="url(#c115)"/>
<rect x="592.3" y="20.4" width="1.6" height="131.2" fill="url(#c116)"/>
<rect x="593.3" y="20.4" width="1.6" height="131.2" fill="url(#c117)"/>
<rect x="594.3" y="20.4" width="1.6" height="131.2" fill="url(#c118)"/>
<rect x="595.3" y="20.4" width="1.6" height="131.2" fill="url(#c119)"/>
<rect x="596.3" y="20.4" width="1.6" height="131.2" fill="url(#c120)"/>
<rect x="597.3" y="20.4" width="1.6" height="131.2" fill="url(#c121)"/>
<rect x="598.3" y="20.4" width="1.6" height="131.2" fill="url(#c122)"/>
<rect x="599.3" y="20.4" width="1.6" height="131.2" fill="url(#c123)"/>
<rect x="600.3" y="20.4" width="1.6" height="131.2" fill="url(#c124)"/>
<rect x="601.3" y="20.4" width="1.6" height="131.2" fill="url(#c125)"/>
<rect x="602.3" y="20.4" width="1.6" height="131.2" fill="url(#c126)"/>
<rect x="603.3" y="20.4" width="1.6" height="131.2" fill="url(#c127)"/>
<rect x="604.3" y="20.4" width="1.6" height="131.2" fill="url(#c128)"/>
<rect x="605.3" y="20.4" width="1.6" height="131.2" fill="url(#c129)"/>
<rect x="606.3" y="20.4" width="1.6" height="131.2" fill="url(#c130)"/>
<rect x="607.3" y="20.4" width="1.6" height="131.2" fill="url(#c131)"/>
<rect x="608.3" y="20.4" width="1.6" height="131.2" fill="url(#c132)"/>
<rect x="609.3" y="20.4" width="1.6" height="131.2" fill="url(#c133)"/>
<rect x="610.3" y="20.4" width="1.6" height="131.2" fill="url(#c134)"/>
<rect x="611.3" y="20.4" width="1.6" height="131.2" fill="url(#c135)"/>
<rect x="612.3" y="20.4" width="1.6" height="131.2" fill="url(#c136)"/>
<rect x="613.3" y="20.4" width="1.6" height="131.2" fill="url(#c137)"/>
<rect x="614.3" y="20.4" width="1.6" height="131.2" fill="url(#c138)"/>
<rect x="615.3" y="20.4" width="1.6" height="131.2" fill="url(#c139)"/>
<rect x="616.3" y="20.4" width="1.6" height="131.2" fill="url(#c140)"/>
<rect x="617.3" y="20.4" width="1.6" height="131.2" fill="url(#c141)"/>
<rect x="618.3" y="20.4" width="1.6" height="131.2" fill="url(#c142)"/>
<rect x="619.3" y="20.4" width="1.6" height="131.2" fill="url(#c143)"/>
<rect x="620.3" y="20.4" width="1.6" height="131.2" fill="url(#c144)"/>
<rect x="621.3" y="20.4" width="1.6" height="131.2" fill="url(#c145)"/>
<rect x="622.3" y="20.4" width="1.6" height="131.2" fill="url(#c146)"/>
<rect x="623.3" y="20.4" width="1.6" height="131.2" fill="url(#c147)"/>
<rect x="624.3" y="20.4" width="1.6" height="131.2" fill="url(#c148)"/>
<rect x="625.3" y="20.4" width="1.6" height="131.2" fill="url(#c149)"/>
<rect x="626.3" y="20.4" width="1.6" height="131.2" fill="url(#c150)"/>
<rect x="627.3" y="20.4" width="1.6" height="131.2" fill="url(#c151)"/>
<rect x="628.3" y="20.4" width="1.6" height="131.2" fill="url(#c152)"/>
<rect x="629.3" y="20.4" width="1.6" height="131.2" fill="url(#c153)"/>
<rect x="630.3" y="20.4" width="1.6" height="131.2" fill="url(#c154)"/>
<rect x="631.3" y="20.4" width="1.6" height="131.2" fill="url(#c155)"/>
<rect x="632.3" y="20.4" width="1.6" height="131.2" fill="url(#c156)"/>
<rect x="633.3" y="20.4" width="1.6" height="131.2" fill="url(#c157)"/>
<rect x="634.3" y="20.4" width="1.6" height="131.2" fill="url(#c158)"/>
<rect x="635.3" y="20.4" width="1.6" height="131.2" fill="url(#c159)"/>
<rect x="636.3" y="20.4" width="1.6" height="131.2" fill="url(#c160)"/>
<rect x="637.3" y="20.4" width="1.6" height="131.2" fill="url(#c161)"/>
<rect x="638.3" y="20.4" width="1.6" height="131.2" fill="url(#c162)"/>
<rect x="639.3" y="20.4" width="1.6" height="131.2" fill="url(#c163)"/>
<rect x="640.3" y="20.4" width="1.6" height="131.2" fill="url(#c164)"/>
<rect x="641.3" y="20.4" width="1.6" height="131.2" fill="url(#c165)"/>
<rect x="642.3" y="20.4" width="1.6" height="131.2" fill="url(#c166)"/>
<rect x="643.3" y="20.4" width="1.6" height="131.2" fill="url(#c167)"/>
<rect x="644.3" y="20.4" width="1.6" height="131.2" fill="url(#c168)"/>
<rect x="645.3" y="20.4" width="1.6" height="131.2" fill="url(#c169)"/>
<rect x="646.3" y="20.4" width="1.6" height="131.2" fill="url(#c170)"/>
<rect x="647.3" y="20.4" width="1.6" height="131.2" fill="url(#c171)"/>
<rect x="648.3" y="20.4" width="1.6" height="131.2" fill="url(#c172)"/>
<rect x="649.3" y="20.4" width="1.6" height="131.2" fill="url(#c173)"/>
<rect x="650.3" y="20.4" width="1.6" height="131.2" fill="url(#c174)"/>
<rect x="651.3" y="20.4" width="1.6" height="131.2" fill="url(#c175)"/>
<rect x="652.3" y="20.4" width="1.6" height="131.2" fill="url(#c176)"/>
<rect x="653.3" y="20.4" width="1.6" height="131.2" fill="url(#c177)"/>
<rect x="654.3" y="20.4" width="1.6" height="131.2" fill="url(#c178)"/>
<rect x="655.3" y="20.4" width="0.5" height="131.2" fill="url(#c179)"/>
</g>
<rect x="38.3" y="20.4" width="179.5" height="131.2" fill="none" stroke="#a8a8a8" stroke-width="0.8" stroke-opacity="0.55"/>
<rect x="257.2" y="20.4" width="179.5" height="131.2" fill="none" stroke="#a8a8a8" stroke-width="0.8" stroke-opacity="0.55"/>
<rect x="476.3" y="20.4" width="179.5" height="131.2" fill="none" stroke="#a8a8a8" stroke-width="0.8" stroke-opacity="0.55"/>
<rect x="666" y="20.4" width="7" height="131.2" fill="url(#cb)" stroke="#9a9a9a" stroke-width="0.8"/>
<text x="675.4" y="23.6" font-size="9" text-anchor="start" fill="#262626" color="#262626">0.1</text>
<line x1="671.2" y1="53.2" x2="673" y2="53.2" stroke="#a0a0a0" stroke-width="0.7"/>
<text x="675.4" y="56.4" font-size="9" text-anchor="start" fill="#262626" color="#262626">0.05</text>
<line x1="671.2" y1="86" x2="673" y2="86" stroke="#a0a0a0" stroke-width="0.7"/>
<text x="675.4" y="89.2" font-size="9" text-anchor="start" fill="#262626" color="#262626">0</text>
<line x1="671.2" y1="118.8" x2="673" y2="118.8" stroke="#a0a0a0" stroke-width="0.7"/>
<text x="675.4" y="122" font-size="9" text-anchor="start" fill="#262626" color="#262626">-0.05</text>
<text x="675.4" y="154.8" font-size="9" text-anchor="start" fill="#262626" color="#262626">-0.1</text>
<polyline points="134.33,121.1 217.8,151.6" fill="none" stroke="#ff0000" stroke-width="1.8" stroke-linejoin="round" stroke-linecap="butt"/>
<circle cx="217.8" cy="151.6" r="3.3" fill="#0000ff"/>
<polyline points="436.7,151.6 436.7,86" fill="none" stroke="#00ff00" stroke-width="1.8" stroke-linejoin="round" stroke-linecap="butt"/>
<polyline points="436.7,86 436.7,20.4" fill="none" stroke="#00ff00" stroke-width="1.8" stroke-linejoin="round" stroke-linecap="butt" stroke-dasharray="7 6.5"/>
<polyline points="377.29,86 436.7,86" fill="none" stroke="#ff0000" stroke-width="1.8" stroke-linejoin="round" stroke-linecap="butt"/>
<circle cx="436.7" cy="151.6" r="3.3" fill="#0000ff"/>
<polyline points="655.8,151.6 655.8,86" fill="none" stroke="#00ff00" stroke-width="1.8" stroke-linejoin="round" stroke-linecap="butt"/>
<polyline points="655.8,86 655.8,20.4" fill="none" stroke="#00ff00" stroke-width="1.8" stroke-linejoin="round" stroke-linecap="butt" stroke-dasharray="7 6.5"/>
<polyline points="575.56,115.32 655.8,86" fill="none" stroke="#ff0000" stroke-width="1.8" stroke-linejoin="round" stroke-linecap="butt"/>
<circle cx="655.8" cy="151.6" r="3.3" fill="#0000ff"/>
<text x="110" y="90.2" font-size="10.2" text-anchor="start" fill="#141414" color="#141414">Decreasing Activity</text>
<text x="56.15" y="142.9" font-size="10.2" text-anchor="start" fill="#141414" color="#141414">Increasing Activity</text>
<text x="301.97" y="70.5" font-size="10.2" text-anchor="start" fill="#141414" color="#141414">Decreasing Activity</text>
<text x="301.97" y="110.5" font-size="10.2" text-anchor="start" fill="#141414" color="#141414">Increasing Activity</text>
<text x="512.6" y="90.3" font-size="10.2" text-anchor="start" fill="#141414" color="#141414">Decreasing Activity</text>
<text x="565.95" y="142.6" font-size="10.2" text-anchor="start" fill="#141414" color="#141414">Increasing Activity</text>
<rect x="536" y="24.2" width="116.6" height="38" fill="#ffffff" stroke="#d0d0d0" stroke-width="0.8"/>
<circle cx="544" cy="30.9" r="3.5" fill="#0000ff"/>
<polyline points="537.4,43.1 550.2,43.1" fill="none" stroke="#00ff00" stroke-width="1.7" stroke-linejoin="round" stroke-linecap="butt"/>
<polyline points="537.4,55.4 550.2,55.4" fill="none" stroke="#ff0000" stroke-width="1.7" stroke-linejoin="round" stroke-linecap="butt"/>
<text x="551.8" y="34.9" font-size="10.2" text-anchor="start" fill="#262626" color="#262626">Disease Free</text>
<text x="551.8" y="47.1" font-size="10.2" text-anchor="start" fill="#262626" color="#262626">Baseline Endemic</text>
<text x="551.8" y="59.4" font-size="10.2" text-anchor="start" fill="#262626" color="#262626">New Normal Endemic</text>
<text x="35.6" y="155.8" font-size="10.2" text-anchor="end" fill="#262626" color="#262626">0</text>
<text x="35.6" y="90.2" font-size="10.2" text-anchor="end" fill="#262626" color="#262626">0.01</text>
<text x="35.6" y="24.6" font-size="10.2" text-anchor="end" fill="#262626" color="#262626">0.02</text>
<text x="38.3" y="164.6" font-size="10.2" text-anchor="middle" fill="#262626" color="#262626">0</text>
<text x="74.2" y="164.6" font-size="10.2" text-anchor="middle" fill="#262626" color="#262626">0.2</text>
<text x="110.1" y="164.6" font-size="10.2" text-anchor="middle" fill="#262626" color="#262626">0.4</text>
<text x="146" y="164.6" font-size="10.2" text-anchor="middle" fill="#262626" color="#262626">0.6</text>
<text x="181.9" y="164.6" font-size="10.2" text-anchor="middle" fill="#262626" color="#262626">0.8</text>
<text x="217.8" y="164.6" font-size="10.2" text-anchor="middle" fill="#262626" color="#262626">1</text>
<text x="127.55" y="176.6" font-size="10.2" text-anchor="middle" fill="#262626" color="#262626">Activity</text>
<text x="0" y="0" font-size="10.2" text-anchor="middle" fill="#262626" color="#262626" transform="translate(12.3,86.7) rotate(-90)">Incidence</text>
<text x="254.5" y="155.8" font-size="10.2" text-anchor="end" fill="#262626" color="#262626">0</text>
<text x="254.5" y="90.2" font-size="10.2" text-anchor="end" fill="#262626" color="#262626">0.01</text>
<text x="254.5" y="24.6" font-size="10.2" text-anchor="end" fill="#262626" color="#262626">0.02</text>
<text x="257.2" y="164.6" font-size="10.2" text-anchor="middle" fill="#262626" color="#262626">0</text>
<text x="293.1" y="164.6" font-size="10.2" text-anchor="middle" fill="#262626" color="#262626">0.2</text>
<text x="329" y="164.6" font-size="10.2" text-anchor="middle" fill="#262626" color="#262626">0.4</text>
<text x="364.9" y="164.6" font-size="10.2" text-anchor="middle" fill="#262626" color="#262626">0.6</text>
<text x="400.8" y="164.6" font-size="10.2" text-anchor="middle" fill="#262626" color="#262626">0.8</text>
<text x="436.7" y="164.6" font-size="10.2" text-anchor="middle" fill="#262626" color="#262626">1</text>
<text x="346.45" y="176.6" font-size="10.2" text-anchor="middle" fill="#262626" color="#262626">Activity</text>
<text x="0" y="0" font-size="10.2" text-anchor="middle" fill="#262626" color="#262626" transform="translate(231.2,86.7) rotate(-90)">Incidence</text>
<text x="473.6" y="155.8" font-size="10.2" text-anchor="end" fill="#262626" color="#262626">0</text>
<text x="473.6" y="90.2" font-size="10.2" text-anchor="end" fill="#262626" color="#262626">0.01</text>
<text x="473.6" y="24.6" font-size="10.2" text-anchor="end" fill="#262626" color="#262626">0.02</text>
<text x="476.3" y="164.6" font-size="10.2" text-anchor="middle" fill="#262626" color="#262626">0</text>
<text x="512.2" y="164.6" font-size="10.2" text-anchor="middle" fill="#262626" color="#262626">0.2</text>
<text x="548.1" y="164.6" font-size="10.2" text-anchor="middle" fill="#262626" color="#262626">0.4</text>
<text x="584" y="164.6" font-size="10.2" text-anchor="middle" fill="#262626" color="#262626">0.6</text>
<text x="619.9" y="164.6" font-size="10.2" text-anchor="middle" fill="#262626" color="#262626">0.8</text>
<text x="655.8" y="164.6" font-size="10.2" text-anchor="middle" fill="#262626" color="#262626">1</text>
<text x="565.55" y="176.6" font-size="10.2" text-anchor="middle" fill="#262626" color="#262626">Activity</text>
<text x="0" y="0" font-size="10.2" text-anchor="middle" fill="#262626" color="#262626" transform="translate(450.3,86.7) rotate(-90)">Incidence</text>
<text x="113.46" y="11.8" font-size="10.2" text-anchor="start" fill="#000000" color="#000000" font-weight="bold">F</text>
<text x="122.07" y="17" font-size="8" text-anchor="start" fill="#000000" color="#000000">linear</text>
<text x="325.69" y="11.8" font-size="10.2" text-anchor="start" fill="#000000" color="#000000" font-weight="bold">F</text>
<text x="334.3" y="17" font-size="8" text-anchor="start" fill="#000000" color="#000000">quadratic</text>
<text x="548.34" y="11.8" font-size="10.2" text-anchor="start" fill="#000000" color="#000000" font-weight="bold">F</text>
<text x="556.95" y="17" font-size="8" text-anchor="start" fill="#000000" color="#000000">bilinear</text>
<line x1="183.42" y1="314.8" x2="183.42" y2="312.9" stroke="#a0a0a0" stroke-width="0.8"/>
<line x1="183.42" y1="181.1" x2="183.42" y2="183" stroke="#a0a0a0" stroke-width="0.8"/>
<line x1="38.7" y1="314.8" x2="40.6" y2="314.8" stroke="#a0a0a0" stroke-width="0.8"/>
<line x1="219.6" y1="314.8" x2="217.7" y2="314.8" stroke="#a0a0a0" stroke-width="0.8"/>
<line x1="38.7" y1="284.41" x2="40.6" y2="284.41" stroke="#a0a0a0" stroke-width="0.8"/>
<line x1="219.6" y1="284.41" x2="217.7" y2="284.41" stroke="#a0a0a0" stroke-width="0.8"/>
<line x1="38.7" y1="254.03" x2="40.6" y2="254.03" stroke="#a0a0a0" stroke-width="0.8"/>
<line x1="219.6" y1="254.03" x2="217.7" y2="254.03" stroke="#a0a0a0" stroke-width="0.8"/>
<line x1="38.7" y1="223.64" x2="40.6" y2="223.64" stroke="#a0a0a0" stroke-width="0.8"/>
<line x1="219.6" y1="223.64" x2="217.7" y2="223.64" stroke="#a0a0a0" stroke-width="0.8"/>
<line x1="38.7" y1="193.25" x2="40.6" y2="193.25" stroke="#a0a0a0" stroke-width="0.8"/>
<line x1="219.6" y1="193.25" x2="217.7" y2="193.25" stroke="#a0a0a0" stroke-width="0.8"/>
<rect x="38.7" y="181.1" width="180.9" height="133.7" fill="none" stroke="#cdcdcd" stroke-width="1.3"/>
<text x="35.7" y="319" font-size="10.2" text-anchor="end" fill="#262626" color="#262626">0</text>
<text x="35.7" y="288.61" font-size="10.2" text-anchor="end" fill="#262626" color="#262626">0.25</text>
<text x="35.7" y="258.23" font-size="10.2" text-anchor="end" fill="#262626" color="#262626">0.5</text>
<text x="35.7" y="227.84" font-size="10.2" text-anchor="end" fill="#262626" color="#262626">0.75</text>
<text x="35.7" y="197.45" font-size="10.2" text-anchor="end" fill="#262626" color="#262626">1</text>
<text x="178.14" y="327.5" font-size="10.2" text-anchor="start" fill="#262626" color="#262626">T</text>
<text x="184.05" y="332.4" font-size="8" text-anchor="start" fill="#262626" color="#262626">1</text>
<text x="129.15" y="344.6" font-size="10.2" text-anchor="middle" fill="#262626" color="#262626">Vaccination Rate</text>
<text x="0" y="0" font-size="10.2" text-anchor="middle" fill="#262626" color="#262626" transform="translate(12.2,248.45) rotate(-90)">Activity</text>
<line x1="317.9" y1="314.8" x2="317.9" y2="312.9" stroke="#a0a0a0" stroke-width="0.8"/>
<line x1="317.9" y1="181.1" x2="317.9" y2="183" stroke="#a0a0a0" stroke-width="0.8"/>
<line x1="402.32" y1="314.8" x2="402.32" y2="312.9" stroke="#a0a0a0" stroke-width="0.8"/>
<line x1="402.32" y1="181.1" x2="402.32" y2="183" stroke="#a0a0a0" stroke-width="0.8"/>
<line x1="257.6" y1="314.8" x2="259.5" y2="314.8" stroke="#a0a0a0" stroke-width="0.8"/>
<line x1="438.5" y1="314.8" x2="436.6" y2="314.8" stroke="#a0a0a0" stroke-width="0.8"/>
<line x1="257.6" y1="284.41" x2="259.5" y2="284.41" stroke="#a0a0a0" stroke-width="0.8"/>
<line x1="438.5" y1="284.41" x2="436.6" y2="284.41" stroke="#a0a0a0" stroke-width="0.8"/>
<line x1="257.6" y1="254.03" x2="259.5" y2="254.03" stroke="#a0a0a0" stroke-width="0.8"/>
<line x1="438.5" y1="254.03" x2="436.6" y2="254.03" stroke="#a0a0a0" stroke-width="0.8"/>
<line x1="257.6" y1="223.64" x2="259.5" y2="223.64" stroke="#a0a0a0" stroke-width="0.8"/>
<line x1="438.5" y1="223.64" x2="436.6" y2="223.64" stroke="#a0a0a0" stroke-width="0.8"/>
<line x1="257.6" y1="193.25" x2="259.5" y2="193.25" stroke="#a0a0a0" stroke-width="0.8"/>
<line x1="438.5" y1="193.25" x2="436.6" y2="193.25" stroke="#a0a0a0" stroke-width="0.8"/>
<rect x="257.6" y="181.1" width="180.9" height="133.7" fill="none" stroke="#cdcdcd" stroke-width="1.3"/>
<text x="254.6" y="319" font-size="10.2" text-anchor="end" fill="#262626" color="#262626">0</text>
<text x="254.6" y="288.61" font-size="10.2" text-anchor="end" fill="#262626" color="#262626">0.25</text>
<text x="254.6" y="258.23" font-size="10.2" text-anchor="end" fill="#262626" color="#262626">0.5</text>
<text x="254.6" y="227.84" font-size="10.2" text-anchor="end" fill="#262626" color="#262626">0.75</text>
<text x="254.6" y="197.45" font-size="10.2" text-anchor="end" fill="#262626" color="#262626">1</text>
<text x="312.62" y="327.5" font-size="10.2" text-anchor="start" fill="#262626" color="#262626">T</text>
<text x="318.53" y="332.4" font-size="8" text-anchor="start" fill="#262626" color="#262626">2</text>
<text x="397.04" y="327.5" font-size="10.2" text-anchor="start" fill="#262626" color="#262626">T</text>
<text x="402.95" y="332.4" font-size="8" text-anchor="start" fill="#262626" color="#262626">1</text>
<text x="348.05" y="344.6" font-size="10.2" text-anchor="middle" fill="#262626" color="#262626">Vaccination Rate</text>
<text x="0" y="0" font-size="10.2" text-anchor="middle" fill="#262626" color="#262626" transform="translate(231.1,248.45) rotate(-90)">Activity</text>
<line x1="536.9" y1="314.8" x2="536.9" y2="312.9" stroke="#a0a0a0" stroke-width="0.8"/>
<line x1="536.9" y1="181.1" x2="536.9" y2="183" stroke="#a0a0a0" stroke-width="0.8"/>
<line x1="621.32" y1="314.8" x2="621.32" y2="312.9" stroke="#a0a0a0" stroke-width="0.8"/>
<line x1="621.32" y1="181.1" x2="621.32" y2="183" stroke="#a0a0a0" stroke-width="0.8"/>
<line x1="476.6" y1="314.8" x2="478.5" y2="314.8" stroke="#a0a0a0" stroke-width="0.8"/>
<line x1="657.5" y1="314.8" x2="655.6" y2="314.8" stroke="#a0a0a0" stroke-width="0.8"/>
<line x1="476.6" y1="284.41" x2="478.5" y2="284.41" stroke="#a0a0a0" stroke-width="0.8"/>
<line x1="657.5" y1="284.41" x2="655.6" y2="284.41" stroke="#a0a0a0" stroke-width="0.8"/>
<line x1="476.6" y1="254.03" x2="478.5" y2="254.03" stroke="#a0a0a0" stroke-width="0.8"/>
<line x1="657.5" y1="254.03" x2="655.6" y2="254.03" stroke="#a0a0a0" stroke-width="0.8"/>
<line x1="476.6" y1="223.64" x2="478.5" y2="223.64" stroke="#a0a0a0" stroke-width="0.8"/>
<line x1="657.5" y1="223.64" x2="655.6" y2="223.64" stroke="#a0a0a0" stroke-width="0.8"/>
<line x1="476.6" y1="193.25" x2="478.5" y2="193.25" stroke="#a0a0a0" stroke-width="0.8"/>
<line x1="657.5" y1="193.25" x2="655.6" y2="193.25" stroke="#a0a0a0" stroke-width="0.8"/>
<rect x="476.6" y="181.1" width="180.9" height="133.7" fill="none" stroke="#cdcdcd" stroke-width="1.3"/>
<text x="473.6" y="319" font-size="10.2" text-anchor="end" fill="#262626" color="#262626">0</text>
<text x="473.6" y="288.61" font-size="10.2" text-anchor="end" fill="#262626" color="#262626">0.25</text>
<text x="473.6" y="258.23" font-size="10.2" text-anchor="end" fill="#262626" color="#262626">0.5</text>
<text x="473.6" y="227.84" font-size="10.2" text-anchor="end" fill="#262626" color="#262626">0.75</text>
<text x="473.6" y="197.45" font-size="10.2" text-anchor="end" fill="#262626" color="#262626">1</text>
<text x="531.62" y="327.5" font-size="10.2" text-anchor="start" fill="#262626" color="#262626">T</text>
<text x="537.53" y="332.4" font-size="8" text-anchor="start" fill="#262626" color="#262626">2</text>
<text x="616.04" y="327.5" font-size="10.2" text-anchor="start" fill="#262626" color="#262626">T</text>
<text x="621.95" y="332.4" font-size="8" text-anchor="start" fill="#262626" color="#262626">1</text>
<text x="567.05" y="344.6" font-size="10.2" text-anchor="middle" fill="#262626" color="#262626">Vaccination Rate</text>
<text x="0" y="0" font-size="10.2" text-anchor="middle" fill="#262626" color="#262626" transform="translate(450.1,248.45) rotate(-90)">Activity</text>
<line x1="183.42" y1="481.9" x2="183.42" y2="480" stroke="#a0a0a0" stroke-width="0.8"/>
<line x1="183.42" y1="348.2" x2="183.42" y2="350.1" stroke="#a0a0a0" stroke-width="0.8"/>
<line x1="38.7" y1="481.9" x2="40.6" y2="481.9" stroke="#a0a0a0" stroke-width="0.8"/>
<line x1="219.6" y1="481.9" x2="217.7" y2="481.9" stroke="#a0a0a0" stroke-width="0.8"/>
<line x1="38.7" y1="428.42" x2="40.6" y2="428.42" stroke="#a0a0a0" stroke-width="0.8"/>
<line x1="219.6" y1="428.42" x2="217.7" y2="428.42" stroke="#a0a0a0" stroke-width="0.8"/>
<line x1="38.7" y1="374.94" x2="40.6" y2="374.94" stroke="#a0a0a0" stroke-width="0.8"/>
<line x1="219.6" y1="374.94" x2="217.7" y2="374.94" stroke="#a0a0a0" stroke-width="0.8"/>
<rect x="38.7" y="348.2" width="180.9" height="133.7" fill="none" stroke="#cdcdcd" stroke-width="1.3"/>
<text x="35.7" y="486.1" font-size="10.2" text-anchor="end" fill="#262626" color="#262626">0</text>
<text x="35.7" y="432.62" font-size="10.2" text-anchor="end" fill="#262626" color="#262626">0.01</text>
<text x="35.7" y="379.14" font-size="10.2" text-anchor="end" fill="#262626" color="#262626">0.02</text>
<text x="178.14" y="494.6" font-size="10.2" text-anchor="start" fill="#262626" color="#262626">T</text>
<text x="184.05" y="499.5" font-size="8" text-anchor="start" fill="#262626" color="#262626">1</text>
<text x="129.15" y="511.7" font-size="10.2" text-anchor="middle" fill="#262626" color="#262626">Vaccination Rate</text>
<text x="0" y="0" font-size="10.2" text-anchor="middle" fill="#262626" color="#262626" transform="translate(12.2,415.05) rotate(-90)">Infection Rate</text>
<line x1="317.9" y1="481.9" x2="317.9" y2="480" stroke="#a0a0a0" stroke-width="0.8"/>
<line x1="317.9" y1="348.2" x2="317.9" y2="350.1" stroke="#a0a0a0" stroke-width="0.8"/>
<line x1="402.32" y1="481.9" x2="402.32" y2="480" stroke="#a0a0a0" stroke-width="0.8"/>
<line x1="402.32" y1="348.2" x2="402.32" y2="350.1" stroke="#a0a0a0" stroke-width="0.8"/>
<line x1="257.6" y1="481.9" x2="259.5" y2="481.9" stroke="#a0a0a0" stroke-width="0.8"/>
<line x1="438.5" y1="481.9" x2="436.6" y2="481.9" stroke="#a0a0a0" stroke-width="0.8"/>
<line x1="257.6" y1="428.42" x2="259.5" y2="428.42" stroke="#a0a0a0" stroke-width="0.8"/>
<line x1="438.5" y1="428.42" x2="436.6" y2="428.42" stroke="#a0a0a0" stroke-width="0.8"/>
<line x1="257.6" y1="374.94" x2="259.5" y2="374.94" stroke="#a0a0a0" stroke-width="0.8"/>
<line x1="438.5" y1="374.94" x2="436.6" y2="374.94" stroke="#a0a0a0" stroke-width="0.8"/>
<rect x="257.6" y="348.2" width="180.9" height="133.7" fill="none" stroke="#cdcdcd" stroke-width="1.3"/>
<text x="254.6" y="486.1" font-size="10.2" text-anchor="end" fill="#262626" color="#262626">0</text>
<text x="254.6" y="432.62" font-size="10.2" text-anchor="end" fill="#262626" color="#262626">0.01</text>
<text x="254.6" y="379.14" font-size="10.2" text-anchor="end" fill="#262626" color="#262626">0.02</text>
<text x="312.62" y="494.6" font-size="10.2" text-anchor="start" fill="#262626" color="#262626">T</text>
<text x="318.53" y="499.5" font-size="8" text-anchor="start" fill="#262626" color="#262626">2</text>
<text x="397.04" y="494.6" font-size="10.2" text-anchor="start" fill="#262626" color="#262626">T</text>
<text x="402.95" y="499.5" font-size="8" text-anchor="start" fill="#262626" color="#262626">1</text>
<text x="348.05" y="511.7" font-size="10.2" text-anchor="middle" fill="#262626" color="#262626">Vaccination Rate</text>
<text x="0" y="0" font-size="10.2" text-anchor="middle" fill="#262626" color="#262626" transform="translate(231.1,415.05) rotate(-90)">Infection Rate</text>
<line x1="536.9" y1="481.9" x2="536.9" y2="480" stroke="#a0a0a0" stroke-width="0.8"/>
<line x1="536.9" y1="348.2" x2="536.9" y2="350.1" stroke="#a0a0a0" stroke-width="0.8"/>
<line x1="621.32" y1="481.9" x2="621.32" y2="480" stroke="#a0a0a0" stroke-width="0.8"/>
<line x1="621.32" y1="348.2" x2="621.32" y2="350.1" stroke="#a0a0a0" stroke-width="0.8"/>
<line x1="476.6" y1="481.9" x2="478.5" y2="481.9" stroke="#a0a0a0" stroke-width="0.8"/>
<line x1="657.5" y1="481.9" x2="655.6" y2="481.9" stroke="#a0a0a0" stroke-width="0.8"/>
<line x1="476.6" y1="428.42" x2="478.5" y2="428.42" stroke="#a0a0a0" stroke-width="0.8"/>
<line x1="657.5" y1="428.42" x2="655.6" y2="428.42" stroke="#a0a0a0" stroke-width="0.8"/>
<line x1="476.6" y1="374.94" x2="478.5" y2="374.94" stroke="#a0a0a0" stroke-width="0.8"/>
<line x1="657.5" y1="374.94" x2="655.6" y2="374.94" stroke="#a0a0a0" stroke-width="0.8"/>
<rect x="476.6" y="348.2" width="180.9" height="133.7" fill="none" stroke="#cdcdcd" stroke-width="1.3"/>
<text x="473.6" y="486.1" font-size="10.2" text-anchor="end" fill="#262626" color="#262626">0</text>
<text x="473.6" y="432.62" font-size="10.2" text-anchor="end" fill="#262626" color="#262626">0.01</text>
<text x="473.6" y="379.14" font-size="10.2" text-anchor="end" fill="#262626" color="#262626">0.02</text>
<text x="531.62" y="494.6" font-size="10.2" text-anchor="start" fill="#262626" color="#262626">T</text>
<text x="537.53" y="499.5" font-size="8" text-anchor="start" fill="#262626" color="#262626">2</text>
<text x="616.04" y="494.6" font-size="10.2" text-anchor="start" fill="#262626" color="#262626">T</text>
<text x="621.95" y="499.5" font-size="8" text-anchor="start" fill="#262626" color="#262626">1</text>
<text x="567.05" y="511.7" font-size="10.2" text-anchor="middle" fill="#262626" color="#262626">Vaccination Rate</text>
<text x="0" y="0" font-size="10.2" text-anchor="middle" fill="#262626" color="#262626" transform="translate(450.1,415.05) rotate(-90)">Infection Rate</text>
<polyline points="38.7,249.83 45.94,246.78 53.17,243.73 60.41,240.68 67.64,237.66 74.88,234.66 82.12,231.68 89.35,228.73 96.59,225.82 103.82,222.93 111.06,220.09 118.3,217.27 125.53,214.5 132.77,211.76 140,209.05 147.24,206.37 154.48,203.71 161.71,201.08 168.95,198.46 176.18,195.86 183.42,193.25" fill="none" stroke="#ff0000" stroke-width="1.8" stroke-linejoin="round" stroke-linecap="butt"/>
<polyline points="183.42,193.25 219.6,193.25" fill="none" stroke="#0000ff" stroke-width="1.8" stroke-linejoin="round" stroke-linecap="butt"/>
<circle cx="183.42" cy="193.25" r="3.3" fill="#000000"/>
<polyline points="257.6,232.76 317.9,193.25" fill="none" stroke="#ff0000" stroke-width="1.8" stroke-linejoin="round" stroke-linecap="butt"/>
<polyline points="317.9,193.25 402.32,193.25" fill="none" stroke="#00ff00" stroke-width="1.8" stroke-linejoin="round" stroke-linecap="butt"/>
<polyline points="402.32,193.25 438.5,193.25" fill="none" stroke="#0000ff" stroke-width="1.8" stroke-linejoin="round" stroke-linecap="butt"/>
<circle cx="317.9" cy="193.25" r="3.3" fill="#ff0000"/>
<circle cx="402.32" cy="193.25" r="3.3" fill="#000000"/>
<polyline points="476.6,247.52 478.61,246.25 480.62,244.94 482.63,243.6 484.64,242.21 486.65,240.79 488.66,239.34 490.67,237.84 492.68,236.31 494.69,234.74 496.7,233.14 498.71,231.49 500.72,229.82 502.73,228.1 504.74,226.35 506.75,224.55 508.76,222.73 510.77,220.86 512.78,218.96 514.79,217.02 516.8,215.05 518.81,213.03 520.82,210.98 522.83,208.9 524.84,206.77 526.85,204.61 528.86,202.42 530.87,200.18 532.88,197.91 534.89,195.6 536.9,193.25" fill="none" stroke="#ff0000" stroke-width="1.8" stroke-linejoin="round" stroke-linecap="butt"/>
<polyline points="536.9,193.25 621.32,193.25" fill="none" stroke="#00ff00" stroke-width="1.8" stroke-linejoin="round" stroke-linecap="butt"/>
<polyline points="621.32,193.25 657.5,193.25" fill="none" stroke="#0000ff" stroke-width="1.8" stroke-linejoin="round" stroke-linecap="butt"/>
<circle cx="536.9" cy="193.25" r="3.3" fill="#ff0000"/>
<circle cx="621.32" cy="193.25" r="3.3" fill="#000000"/>
<rect x="518.4" y="248" width="136.8" height="63.3" fill="#ffffff" stroke="#d0d0d0" stroke-width="0.8"/>
<polyline points="520.1,254.7 532.8,254.7" fill="none" stroke="#0000ff" stroke-width="1.7" stroke-linejoin="round" stroke-linecap="butt"/>
<polyline points="520.1,267.2 532.8,267.2" fill="none" stroke="#00ff00" stroke-width="1.7" stroke-linejoin="round" stroke-linecap="butt"/>
<polyline points="520.1,279.7 532.8,279.7" fill="none" stroke="#ff0000" stroke-width="1.7" stroke-linejoin="round" stroke-linecap="butt"/>
<circle cx="526.5" cy="292.1" r="3.4" fill="#000000"/>
<circle cx="526.5" cy="304.5" r="3.4" fill="#ff0000"/>
<text x="534.4" y="258.7" font-size="10.2" text-anchor="start" fill="#262626" color="#262626">Disease Free</text>
<text x="534.4" y="271.2" font-size="10.2" text-anchor="start" fill="#262626" color="#262626">Baseline Endemic</text>
<text x="534.4" y="283.7" font-size="10.2" text-anchor="start" fill="#262626" color="#262626">New Normal Endemic</text>
<text x="534.4" y="296.1" font-size="10.2" text-anchor="start" fill="#262626" color="#262626">Classical Vacc. Threshold</text>
<text x="534.4" y="308.5" font-size="10.2" text-anchor="start" fill="#262626" color="#262626">New Vacc. Threshold</text>
<defs><clipPath id="r3c1"><rect x="257.6" y="348.2" width="180.9" height="133.7"/></clipPath><clipPath id="r3c2"><rect x="476.6" y="348.2" width="180.9" height="133.7"/></clipPath></defs>
<polyline points="38.7,481.9 183.42,481.9" fill="none" stroke="#0000ff" stroke-width="1.8" stroke-linejoin="round" stroke-linecap="butt" stroke-dasharray="7 6.7"/>
<polyline points="183.42,481.9 219.6,481.9" fill="none" stroke="#0000ff" stroke-width="1.8" stroke-linejoin="round" stroke-linecap="butt"/>
<polyline points="38.7,432.22 183.42,481.9" fill="none" stroke="#ff0000" stroke-width="1.8" stroke-linejoin="round" stroke-linecap="butt"/>
<circle cx="183.42" cy="481.9" r="3.3" fill="#000000"/>
<polyline points="257.6,481.9 402.32,481.9" fill="none" stroke="#0000ff" stroke-width="1.8" stroke-linejoin="round" stroke-linecap="butt" stroke-dasharray="7 6.7"/>
<polyline points="402.32,481.9 438.5,481.9" fill="none" stroke="#0000ff" stroke-width="1.8" stroke-linejoin="round" stroke-linecap="butt"/>
<polyline points="402.32,481.9 317.9,374.94" fill="none" stroke="#00ff00" stroke-width="1.8" stroke-linejoin="round" stroke-linecap="butt"/>
<g clip-path="url(#r3c1)">
<polyline points="317.9,374.94 275.69,321.46" fill="none" stroke="#00ff00" stroke-width="1.8" stroke-linejoin="round" stroke-linecap="butt" stroke-dasharray="6.9 6.9"/>
</g>
<polyline points="476.6,481.9 621.32,481.9" fill="none" stroke="#0000ff" stroke-width="1.8" stroke-linejoin="round" stroke-linecap="butt" stroke-dasharray="7 6.7"/>
<polyline points="621.32,481.9 657.5,481.9" fill="none" stroke="#0000ff" stroke-width="1.8" stroke-linejoin="round" stroke-linecap="butt"/>
<polyline points="621.32,481.9 536.9,374.94" fill="none" stroke="#00ff00" stroke-width="1.8" stroke-linejoin="round" stroke-linecap="butt"/>
<g clip-path="url(#r3c2)">
<polyline points="536.9,374.94 494.69,321.46" fill="none" stroke="#00ff00" stroke-width="1.8" stroke-linejoin="round" stroke-linecap="butt" stroke-dasharray="6.9 6.9"/>
</g>
<polyline points="257.6,374.94 317.9,374.94" fill="none" stroke="#ff0000" stroke-width="1.8" stroke-linejoin="round" stroke-linecap="butt"/>
<polyline points="476.6,422.7 478.61,421.51 480.62,420.29 482.63,419.04 484.64,417.76 486.65,416.46 488.66,415.13 490.67,413.78 492.68,412.39 494.69,410.98 496.7,409.54 498.71,408.07 500.72,406.57 502.73,405.05 504.74,403.5 506.75,401.92 508.76,400.32 510.77,398.68 512.78,397.02 514.79,395.33 516.8,393.62 518.81,391.87 520.82,390.1 522.83,388.3 524.84,386.48 526.85,384.62 528.86,382.74 530.87,380.83 532.88,378.9 534.89,376.93 536.9,374.94" fill="none" stroke="#ff0000" stroke-width="1.8" stroke-linejoin="round" stroke-linecap="butt"/>
<circle cx="317.9" cy="374.94" r="3.3" fill="#ff0000"/>
<circle cx="402.32" cy="481.9" r="3.3" fill="#000000"/>
<circle cx="536.9" cy="374.94" r="3.3" fill="#ff0000"/>
<circle cx="621.32" cy="481.9" r="3.3" fill="#000000"/></svg>
</body></html>
